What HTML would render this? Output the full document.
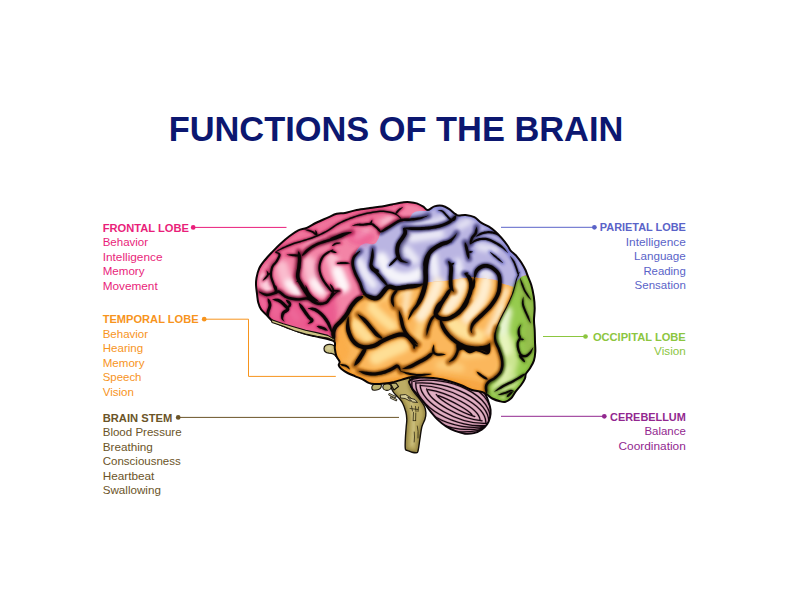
<!DOCTYPE html>
<html lang="en"><head><meta charset="utf-8"><title>Functions of the Brain</title>
<style>
html,body{margin:0;padding:0;background:#fff;}
body{width:792px;height:612px;overflow:hidden;}
svg{display:block;font-family:"Liberation Sans", sans-serif;}
</style></head><body>
<svg width="792" height="612" viewBox="0 0 792 612">
<rect width="792" height="612" fill="#ffffff"/>
<g id="labels">
<text x="168.7" y="140.9" fill="#0c1770" font-weight="700" font-size="34.4" textLength="454.6" lengthAdjust="spacingAndGlyphs">FUNCTIONS OF THE BRAIN</text>
<text x="102.7" y="231.6" fill="#e91e7a" font-weight="700" textLength="86.2" lengthAdjust="spacingAndGlyphs" font-size="11.0">FRONTAL LOBE</text>
<text x="102.7" y="246.15" fill="#e91e7a" textLength="45.4" lengthAdjust="spacingAndGlyphs" font-size="11.6">Behavior</text>
<text x="102.7" y="260.6" fill="#e91e7a" textLength="59.8" lengthAdjust="spacingAndGlyphs" font-size="11.6">Intelligence</text>
<text x="102.7" y="275.05" fill="#e91e7a" textLength="41.8" lengthAdjust="spacingAndGlyphs" font-size="11.6">Memory</text>
<text x="102.7" y="289.5" fill="#e91e7a" textLength="55.0" lengthAdjust="spacingAndGlyphs" font-size="11.6">Movement</text>
<text x="102.7" y="323.2" fill="#f7941d" font-weight="700" textLength="95.9" lengthAdjust="spacingAndGlyphs" font-size="11.0">TEMPORAL LOBE</text>
<text x="102.7" y="337.75" fill="#f7941d" textLength="45.4" lengthAdjust="spacingAndGlyphs" font-size="11.6">Behavior</text>
<text x="102.7" y="352.2" fill="#f7941d" textLength="40.5" lengthAdjust="spacingAndGlyphs" font-size="11.6">Hearing</text>
<text x="102.7" y="366.65" fill="#f7941d" textLength="41.8" lengthAdjust="spacingAndGlyphs" font-size="11.6">Memory</text>
<text x="102.7" y="381.1" fill="#f7941d" textLength="38.8" lengthAdjust="spacingAndGlyphs" font-size="11.6">Speech</text>
<text x="102.7" y="395.55" fill="#f7941d" textLength="31.2" lengthAdjust="spacingAndGlyphs" font-size="11.6">Vision</text>
<text x="102.7" y="421.6" fill="#6b5428" font-weight="700" textLength="69.6" lengthAdjust="spacingAndGlyphs" font-size="11.0">BRAIN STEM</text>
<text x="102.7" y="436.15" fill="#6b5428" textLength="78.9" lengthAdjust="spacingAndGlyphs" font-size="11.6">Blood Pressure</text>
<text x="102.7" y="450.6" fill="#6b5428" textLength="50.2" lengthAdjust="spacingAndGlyphs" font-size="11.6">Breathing</text>
<text x="102.7" y="465.05" fill="#6b5428" textLength="78.1" lengthAdjust="spacingAndGlyphs" font-size="11.6">Consciousness</text>
<text x="102.7" y="479.5" fill="#6b5428" textLength="51.7" lengthAdjust="spacingAndGlyphs" font-size="11.6">Heartbeat</text>
<text x="102.7" y="493.95" fill="#6b5428" textLength="58.2" lengthAdjust="spacingAndGlyphs" font-size="11.6">Swallowing</text>
<text x="685.8" y="231.4" fill="#5a63c8" font-weight="700" text-anchor="end" textLength="86.0" lengthAdjust="spacingAndGlyphs" font-size="11.0">PARIETAL LOBE</text>
<text x="685.8" y="245.95" fill="#5a63c8" text-anchor="end" textLength="60.0" lengthAdjust="spacingAndGlyphs" font-size="11.6">Intelligence</text>
<text x="685.8" y="260.4" fill="#5a63c8" text-anchor="end" textLength="51.8" lengthAdjust="spacingAndGlyphs" font-size="11.6">Language</text>
<text x="685.8" y="274.85" fill="#5a63c8" text-anchor="end" textLength="42.4" lengthAdjust="spacingAndGlyphs" font-size="11.6">Reading</text>
<text x="685.8" y="289.3" fill="#5a63c8" text-anchor="end" textLength="51.2" lengthAdjust="spacingAndGlyphs" font-size="11.6">Sensation</text>
<text x="685.8" y="340.9" fill="#8cc63f" font-weight="700" text-anchor="end" textLength="92.9" lengthAdjust="spacingAndGlyphs" font-size="11.0">OCCIPITAL LOBE</text>
<text x="685.8" y="355.45" fill="#8cc63f" text-anchor="end" textLength="31.7" lengthAdjust="spacingAndGlyphs" font-size="11.6">Vision</text>
<text x="685.8" y="420.5" fill="#92278f" font-weight="700" text-anchor="end" textLength="75.7" lengthAdjust="spacingAndGlyphs" font-size="11.0">CEREBELLUM</text>
<text x="685.8" y="435.05" fill="#92278f" text-anchor="end" textLength="41.4" lengthAdjust="spacingAndGlyphs" font-size="11.6">Balance</text>
<text x="685.8" y="449.5" fill="#92278f" text-anchor="end" textLength="67.3" lengthAdjust="spacingAndGlyphs" font-size="11.6">Coordination</text>
<path d="M193.2 227.4 L286.5 227.4" fill="none" stroke="#e91e7a" stroke-width="1"/><circle cx="193.2" cy="227.4" r="2.35" fill="#e91e7a"/>
<path d="M204.2 319.2 L248.5 319.2 L248.5 376.4 L335.8 376.4" fill="none" stroke="#f7941d" stroke-width="1"/><circle cx="204.2" cy="319.2" r="2.35" fill="#f7941d"/>
<path d="M178.2 417.4 L399 417.4" fill="none" stroke="#6b5428" stroke-width="1"/><circle cx="178.2" cy="417.4" r="2.35" fill="#6b5428"/>
<path d="M501 227.3 L594.4 227.3" fill="none" stroke="#5a63c8" stroke-width="1"/><circle cx="594.4" cy="227.3" r="2.35" fill="#5a63c8"/>
<path d="M543 336.5 L585.5 336.5" fill="none" stroke="#8cc63f" stroke-width="1"/><circle cx="585.5" cy="336.5" r="2.35" fill="#8cc63f"/>
<path d="M501 416.3 L604.3 416.3" fill="none" stroke="#92278f" stroke-width="1"/><circle cx="604.3" cy="416.3" r="2.35" fill="#92278f"/>
</g>
<g id="brain">
<defs>
<clipPath id="silc"><path d="M334.4 341.7C332.9 340.1 328.9 339.4 325.6 338.5C322.3 337.6 318.1 337 314.4 336.1C310.7 335.2 307 334.4 303.3 333.3C299.6 332.2 295.9 330.8 292.2 329.4C288.5 328 284.4 326.5 281.1 325C277.8 323.5 274.6 322.3 272.2 320.6C269.8 318.9 268.5 316.9 266.7 315C264.9 313.1 262.5 311.4 261.1 309.4C259.7 307.4 259 305.4 258.3 302.8C257.6 300.2 257.4 296.9 257 293.9C256.6 290.9 256.1 287.6 256 285C255.9 282.4 256 280.8 256.5 278C257 275.2 257.8 271.3 259.2 268.3C260.6 265.3 262.9 262.6 265 260C267.1 257.4 269.2 255.1 271.7 252.5C274.2 249.9 276.9 247 280 244.2C283.1 241.4 286.9 238.1 290 235.8C293.1 233.5 295.5 231.6 298.3 230.3C301.1 229 303.6 229.1 306.7 227.8C309.8 226.5 313.1 224.2 316.7 222.5C320.3 220.8 325 218.8 328.3 217.3C331.6 215.8 333.9 214.4 336.7 213.7C339.5 213 341.7 213.6 345 213C348.3 212.4 352.5 210.8 356.7 210C360.9 209.2 365.8 208.6 370 208C374.2 207.4 378.3 207.1 382 206.5C385.7 205.9 388.4 205.2 392 204.5C395.6 203.8 400.7 202.7 403.7 202.3C406.7 201.9 407.8 202 410 202.2C412.2 202.4 414.5 202.7 416.7 203.4C418.9 204.2 421.5 205.6 423.3 206.7C425.1 207.8 425.8 210.1 427.6 210.1C429.5 210.1 432 207.1 434.4 206.4C436.8 205.7 439.8 205.4 442.2 205.8C444.6 206.2 446.7 207.5 448.9 208.9C451.1 210.3 453.9 213.1 455.6 214.2C457.3 215.3 457.2 215.5 458.9 215.6C460.6 215.7 463 214.7 465.6 215C468.2 215.3 471.8 215.9 474.4 217.2C477 218.5 478.7 221 481.1 222.6C483.5 224.2 486.5 225.2 488.9 226.7C491.3 228.2 493.2 229.7 495.3 231.5C497.4 233.3 499.3 235.4 501.3 237.7C503.3 240 505.9 243.3 507.5 245.5C509.1 247.7 509.3 249.1 510.8 250.8C512.3 252.5 514.5 253.9 516.3 255.8C518 257.8 519.8 260.1 521.3 262.5C522.8 264.9 524.4 267.6 525.5 270C526.6 272.4 527 274.2 528 276.7C529 279.2 530.3 281.7 531.3 285C532.3 288.3 533.2 292.8 533.8 296.7C534.4 300.6 534.7 304.4 534.7 308.3C534.7 312.2 534 316.4 534 320C534 323.6 534.5 326.4 534.7 330C534.9 333.6 534.9 338.1 535 341.7C535.1 345.3 535.5 348.5 535.3 351.7C535.1 354.9 534.8 357.8 533.9 360.6C533 363.4 531.3 366.1 530 368.3C528.7 370.5 526.7 372.2 525.9 373.9C525.1 375.6 525.8 376.4 525 378.3C524.2 380.2 522.7 382.8 521.1 385C519.5 387.2 517.3 389.5 515.6 391.7C513.9 393.9 512.8 396.6 511.1 398.3C509.4 400 507.5 401.2 505.6 401.7C503.8 402.2 502.2 401.8 500 401.3C497.8 400.8 494.4 399.6 492.2 398.5C490 397.4 488.8 395.6 487 394.5C485.2 393.4 483.8 392.4 481.3 391.7C478.8 390.9 475.2 391 472 390C468.8 389 465.9 387 462 385.5C458.1 384 452.9 382.2 448.7 381C444.5 379.8 441.2 379.1 437 378.5C432.8 377.9 427.9 377.8 423.7 377.5C419.5 377.2 415.6 376.6 412 377C408.4 377.4 405 378.8 402 379.6C399 380.4 397.2 381.2 394.2 381.9C391.2 382.5 387.5 383.1 384.2 383.5C380.9 383.9 376.8 384.2 374.2 384.1C371.6 384 370.5 383.6 368.7 382.9C366.9 382.1 365.3 380.7 363.1 379.6C360.9 378.5 357.9 377.4 355.3 376.3C352.7 375.2 350 374.3 347.6 373C345.2 371.7 342.4 369.8 340.9 368.5C339.4 367.2 338.9 366.1 338.7 365C338.5 363.9 340 363.2 339.6 361.7C339.2 360.2 337.2 358.3 336.4 356.1C335.6 353.9 335.1 350.7 334.8 348.3C334.5 345.9 335.9 343.3 334.4 341.7Z"/></clipPath>
<clipPath id="pc"><path d="M430 195C424.9 196.4 429.1 207.9 428.5 209.5C427.9 211.1 424.9 210.9 424 211C423.1 211.1 420.4 210.8 419.5 210.9C418.6 211 416.2 211.4 415.5 211.7C414.8 212 412.7 213.2 412.2 213.8C411.7 214.4 411 216.6 410.4 217.3C409.8 218 407.4 220.4 406 221C404.6 221.6 398.3 222.1 396.5 222.8C394.7 223.5 389.6 227.2 388 228.2C386.4 229.2 381.7 231.8 380.8 232.8C379.9 233.8 379.3 237 378.8 238C378.3 239 376.5 242.3 375.8 243C375.1 243.7 373 244.5 372 244.5C371 244.5 367.1 243.2 366 243.3C364.9 243.4 361.9 244.6 361 245.3C360.1 246 358 248.8 357.3 250C356.6 251.2 354.3 255.7 353.9 257.2C353.4 258.7 352.6 263.3 352.8 265C353 266.7 354.9 272.1 355.6 273.9C356.3 275.7 359.2 281 360 282.8C360.8 284.6 362.4 290.3 363.3 291.7C364.2 293.1 367.6 296.5 368.9 297.2C370.2 297.9 374.8 299.3 376.7 298.3C378.6 297.3 385.8 288.5 387.8 287.5C389.8 286.5 394.7 288.4 396.7 288.3C398.7 288.2 405.7 287 407.8 286.7C409.9 286.4 416.1 286 418 285.6C419.9 285.2 423.6 283 426.7 282.5C429.8 282 444.5 280.9 448.9 280.4C453.3 279.9 466.3 277.4 471 277.4C475.7 277.4 492.6 279.4 495.6 280C498.6 280.6 499.3 282.6 501.1 283.3C502.9 284 511.1 287.9 513.3 287.2C515.5 286.5 520.6 277.8 523.3 276.1C526 274.4 538.3 272.6 540 270C541.7 267.4 542 255 540 250C538 245 526 225.5 520 220C514 214.5 489 197.5 480 195C471 192.5 435.1 193.6 430 195Z"/></clipPath>
<clipPath id="oc"><path d="M330 345C330.8 342.3 332.7 335.1 333.3 333.3C333.9 331.5 334.8 327.9 335.6 326.7C336.4 325.5 340 322.3 341.1 321.1C342.2 319.9 345.7 315.8 346.7 314.4C347.7 313 350.1 308.1 351.1 306.7C352.1 305.3 355.5 301.2 356.7 300C357.9 298.8 362.1 295.3 363.3 295C364.5 294.7 367.6 296.9 368.9 297.2C370.2 297.5 374.8 299.3 376.7 298.3C378.6 297.3 385.8 288.5 387.8 287.5C389.8 286.5 394.7 288.4 396.7 288.3C398.7 288.2 405.7 287 407.8 286.7C409.9 286.4 416.1 286 418 285.6C419.9 285.2 423.6 283 426.7 282.5C429.8 282 444.5 280.9 448.9 280.4C453.3 279.9 466.3 277.4 471 277.4C475.7 277.4 492.6 279.4 495.6 280C498.6 280.6 499.3 282.6 501.1 283.3C502.9 284 512.2 286 513.3 287.2C514.4 288.4 512.8 293.7 512.2 295.6C511.7 297.6 508.8 304.6 507.8 306.7C506.8 308.8 503.3 314.6 502.2 316.7C501.1 318.8 497.4 326 496.7 327.8C496 329.6 495.1 333.6 495 335C494.9 336.4 495.2 340.3 495.6 341.7C496 343.1 498.3 347.7 498.9 349.4C499.5 351.1 501.4 356.6 501.7 358.3C502 360 502.4 364.7 502.2 366.1C502 367.6 500.8 371.6 500 372.8C499.2 374 495.5 377.4 494.4 378.3C493.3 379.2 489.7 380.9 488.9 381.7C488.1 382.5 486.3 384.7 486.1 386.1C485.9 387.5 488.6 394.6 487 396C485.4 397.4 478.7 400.1 470 400C461.3 399.9 413 396.5 400 395C387 393.5 347.5 388.5 340 385C332.5 381.5 326 364 325 360C324 356 329.2 347.7 330 345Z"/></clipPath>
<clipPath id="gc"><path d="M523.3 276.1C520.1 276.8 514.4 285.2 513.3 287.2C512.2 289.1 512.8 293.7 512.2 295.6C511.7 297.6 508.8 304.6 507.8 306.7C506.8 308.8 503.3 314.6 502.2 316.7C501.1 318.8 497.4 326 496.7 327.8C496 329.6 495.1 333.6 495 335C494.9 336.4 495.2 340.3 495.6 341.7C496 343.1 498.3 347.7 498.9 349.4C499.5 351.1 501.4 356.6 501.7 358.3C502 360 502.4 364.7 502.2 366.1C502 367.6 500.8 371.6 500 372.8C499.2 374 495.5 377.4 494.4 378.3C493.3 379.2 489.7 380.9 488.9 381.7C488.1 382.5 486.3 384.7 486.1 386.1C485.9 387.5 485.6 393.6 487 396C488.4 398.4 495.7 409.6 500 410C504.3 410.4 525.5 407 530 400C534.5 393 543.5 352 545 340C546.5 328 547.2 286.4 545 280C542.8 273.6 526.5 275.4 523.3 276.1Z"/></clipPath>
<filter id="b3" x="-30%" y="-30%" width="160%" height="160%"><feGaussianBlur stdDeviation="2.4"/></filter>
<filter id="b2" x="-30%" y="-30%" width="160%" height="160%"><feGaussianBlur stdDeviation="1.5"/></filter>
<filter id="b05" x="-30%" y="-30%" width="160%" height="160%"><feGaussianBlur stdDeviation="0.45"/></filter>
<filter id="b1" x="-30%" y="-30%" width="160%" height="160%"><feGaussianBlur stdDeviation="0.8"/></filter>
<path id="sul" d="M274.8 251.9L275.7 251.4L276.8 250.7L278.2 249.8L279.7 248.9L281.4 248L283 247.1L284.7 246.4L286.5 245.6L288.4 244.8L290.3 244L292.2 243.3L294.1 242.6L296 242L297.9 241.4L299.8 240.9L301.7 240.4L303.5 239.8L305.4 239.3L307.2 238.7L309.1 238.1L310.9 237.5L312.7 236.8L314.6 236.1L316.4 235.4L318.3 234.6L320.2 233.7L322 232.8L323.9 231.8L325.7 230.9L327.4 229.9L329 229L330.4 228L331.9 226.9L333.3 225.9L334.8 224.9L336.3 223.9L337.9 223L339.6 222.2L341.2 221.4L342.9 220.6L344.7 219.8L346.4 219.1L348.2 218.4L350 217.6L351.9 217L353.8 216.3L355.7 215.7L357.6 215.1L359.4 214.5L361.3 214L363.2 213.5L365 213.1L366.9 212.6L368.7 212.2L370.6 211.9L372.5 211.5L374.4 211.2L376.3 210.9L378.1 210.7L380 210.5L381.8 210.5L383.6 210.6L385.4 210.7L387.1 210.9L388.7 211.2L390.2 211.4L391.5 211.8L392.8 212.1L394 212.6L395 213.1L396.1 213.6L397 214.2L398 214.9L398.9 215.7L399.7 216.5L400.4 217.3L401 218L401.4 218.4L400.8 219L400.3 218.5L399.7 217.9L399 217.2L398.1 216.5L397.3 215.8L396.4 215.2L395.4 214.8L394.5 214.3L393.4 213.9L392.3 213.6L391.1 213.2L389.8 213L388.4 212.7L386.8 212.4L385.2 212.3L383.5 212.1L381.8 212.1L380 212.1L378.3 212.2L376.5 212.4L374.6 212.7L372.8 213L370.9 213.4L369.1 213.8L367.2 214.1L365.4 214.6L363.5 215L361.7 215.5L359.9 216L358 216.5L356.2 217.1L354.3 217.7L352.4 218.4L350.6 219.1L348.8 219.8L347 220.5L345.3 221.2L343.6 222L341.9 222.8L340.3 223.6L338.7 224.4L337.1 225.3L335.6 226.2L334.2 227.2L332.8 228.2L331.3 229.2L329.8 230.3L328.2 231.3L326.4 232.2L324.6 233.2L322.7 234.2L320.8 235.1L318.9 236L317 236.8L315.1 237.6L313.3 238.3L311.4 238.9L309.5 239.5L307.7 240.1L305.8 240.7L304 241.3L302.1 241.8L300.2 242.4L298.3 242.9L296.5 243.4L294.7 244L292.8 244.7L290.9 245.4L289 246.2L287.1 247L285.3 247.7L283.6 248.5L282 249.2L280.3 250L278.7 250.7L277.3 251.5L276.1 252.1L275.2 252.5Z M315.7 230L316.3 230.9L316.8 231.8L317.1 232.7L317.4 233.7L317.5 234.6L317 235.8L316.8 235.8L315.8 235L315.6 234.1L315.4 233.1L315.3 232.1L315.3 231.1L315.5 230Z M304.4 229.3L305.4 229.4L306.7 229.4L308.2 229.6L309.8 229.9L311.3 230.4L312.6 230.9L313.7 231.6L314.7 232.4L315.5 233.2L316.1 234.1L316.5 234.9L316.8 235.5L316.6 235.7L316 235.4L315.2 235L314.4 234.4L313.6 233.7L312.7 233L311.8 232.5L310.7 232L309.3 231.5L307.8 231L306.4 230.4L305.2 229.9L304.4 229.5Z M286.7 254.6L287.4 254.5L288.4 254.4L289.5 254.3L290.7 254.2L291.9 254.2L293.1 254.2L294.2 254.2L295.4 254.3L296.7 254.4L297.8 254.5L298.8 254.6L299.4 255L299.4 256.2L298.6 256.5L297.7 256.5L296.5 256.5L295.3 256.4L294.1 256.3L292.9 256.2L291.8 256L290.6 255.8L289.4 255.5L288.3 255.2L287.4 255L286.7 254.8Z M298.9 251.4L299.1 251.9L299.5 252.5L299.9 253.2L300.3 254.1L300.7 254.9L301 255.8L301.1 256.7L301.2 257.5L301.2 258.4L301.2 259.2L301.2 260.1L301.2 261.1L301.1 262L301 263L300.9 264L300.8 265L300.7 266.1L300.6 267.4L300.3 268.9L300 270.6L299.7 272.3L299.4 274L299.4 275.5L299.5 276.9L299.8 278.2L300.3 279.5L301 280.9L301.9 282.3L302.8 283.8L303.7 285.3L304.5 286.8L305.5 288.3L306.4 289.9L307.4 291.4L308.3 292.8L309.2 294.1L310 295.2L310.6 296.3L311.2 297.1L311.7 297.9L312.4 298.6L313.2 299.2L314.4 300L315.8 301L317.4 302L319 303.1L320.3 304.1L321.2 304.8L321 305.2L319.9 305L318.3 304.7L316.4 304.3L314.5 303.7L312.7 302.9L311.2 302L310.1 301L309.2 300L308.4 299L307.8 298.1L307.1 297L306.4 295.9L305.5 294.6L304.6 293.2L303.6 291.7L302.6 290.1L301.6 288.5L300.7 286.9L299.9 285.5L299 284L298.1 282.5L297.3 281L296.6 279.3L296.1 277.5L296 275.6L296.1 273.6L296.4 271.8L296.7 270L297 268.4L297.2 267L297.4 265.7L297.5 264.6L297.6 263.6L297.7 262.7L297.8 261.8L297.8 260.9L297.9 260L297.9 259.2L297.9 258.4L297.8 257.7L297.8 256.9L297.8 256.2L297.9 255.4L297.9 254.5L298 253.7L298 252.8L298.1 252.1L298.1 251.6Z M275.1 251.9L275.7 252L276.6 252.1L277.7 252.3L278.8 252.6L279.8 253.2L280.5 254.3L280.5 255.5L280.2 256.8L279.6 258L279 259.3L278.3 260.5L277.6 261.7L276.8 262.7L276 263.8L275.1 264.7L274.3 265.6L273.7 266.6L273.2 267.6L272.8 268.8L272.5 270.2L272.2 271.6L272.1 273.1L272.1 274.6L272.1 276L272.4 277.4L272.8 278.8L273.3 280.3L273.9 281.8L274.4 283.3L274.9 284.7L275.2 286.1L275.5 287.4L275.7 288.7L275.8 289.9L275.8 290.9L275.9 291.6L275.3 291.8L275 291.1L274.6 290.2L274.2 289.1L273.7 287.9L273.3 286.6L272.9 285.3L272.5 284L271.9 282.6L271.3 281L270.8 279.5L270.3 277.8L270.1 276.2L270 274.6L270 273L270.2 271.3L270.4 269.8L270.8 268.2L271.2 266.8L271.9 265.5L272.7 264.3L273.6 263.3L274.4 262.4L275.2 261.5L275.8 260.5L276.4 259.5L277.1 258.3L277.7 257.1L278.2 256L278.5 255.2L278.5 254.7L278.4 254.5L278 254.1L277.2 253.6L276.3 253.2L275.5 252.8L274.9 252.5Z M301.9 255.3L302.3 254.6L302.9 253.6L303.7 252.4L304.7 251.2L305.8 250.1L307.1 249.1L308.4 248.1L309.8 247.1L311.3 246.1L312.8 245.1L314.5 244.2L316.2 243.3L318 242.5L319.9 241.9L321.8 241.2L323.7 240.6L325.6 240L327.4 239.5L329.2 238.9L331 238.4L332.8 237.9L334.5 237.4L336.1 236.9L337.6 236.4L339 235.8L340.4 235.2L341.8 234.6L343.1 234L344.4 233.5L345.7 233.1L346.9 232.9L348.1 232.7L349.2 232.5L350.2 232.5L351.1 232.4L351.7 232.4L351.7 232.6L351.2 232.9L350.4 233.2L349.5 233.5L348.4 233.9L347.4 234.4L346.3 234.9L345.2 235.4L344.1 236.1L342.8 236.7L341.4 237.4L339.9 238L338.4 238.6L336.8 239.2L335.1 239.7L333.4 240.2L331.7 240.7L329.9 241.2L328.2 241.7L326.3 242.3L324.4 242.9L322.5 243.5L320.7 244.1L318.9 244.8L317.2 245.5L315.6 246.3L314.1 247.2L312.5 248.1L311.1 249L309.8 250L308.5 250.9L307.4 251.9L306.3 252.9L305.2 253.9L304.1 254.7L303.2 255.4L302.5 255.9Z M333.4 249.6L332.4 250.5L330.8 251.6L329 252.9L327.1 254.2L325.4 255.4L324.1 256.8L323.1 258.2L322.3 259.9L321.5 261.7L321 263.6L320.6 265.5L320.4 267.2L320.5 269L320.7 270.7L321.1 272.5L321.6 274.3L322.3 276L323.1 277.8L324.2 279.7L325.4 281.7L326.8 283.6L328.3 285.5L329.7 287.3L330.8 288.8L331.6 290L332.4 291L333.1 291.9L333.7 292.6L334.2 293.2L334.6 293.7L334.2 294.1L333.7 293.7L333.1 293.3L332.3 292.8L331.4 292.1L330.3 291.2L329.2 290L328 288.6L326.6 286.8L325.2 284.9L323.7 282.8L322.3 280.8L321.3 278.8L320.4 276.9L319.7 274.9L319.1 273L318.6 271.1L318.4 269.1L318.4 267.2L318.6 265.1L319 263.1L319.6 261L320.3 259L321.3 257.2L322.5 255.4L324 253.9L326 252.4L328.1 251.3L330.1 250.4L331.9 249.7L333.2 249.2Z M262.7 280.5L263.2 279.7L263.9 278.7L264.8 277.5L265.7 276.4L266.5 275.4L267 274.7L267.1 274.1L267.1 273.5L267 272.7L266.8 271.9L266.7 271.2L266.6 270.6L266.8 270.6L267.1 271L267.6 271.5L268.1 272.2L268.6 273.1L268.8 274.2L268.6 275.3L268 276.5L267.1 277.6L266 278.7L264.8 279.5L263.6 280.2L262.9 280.7Z M267.7 274.9L267.8 274L268.3 273.6L268.8 273.2L269.4 273L270.1 272.8L270.7 272.7L270.9 272.9L270.5 273.5L270.2 274.1L269.8 274.6L269.3 274.9L268.8 275.3L267.9 275.1Z M259 291.4L259.9 291.7L261.2 292.2L262.6 292.7L264.1 293.2L265.5 293.6L266.8 293.8L268 293.8L269.5 293.5L271.1 293L272.6 292.5L274.1 292L275.2 291.7L275.9 291.4L276.2 291.2L276.6 290.8L277.3 290.4L278.3 290.3L279.4 290.6L280.6 291.3L281.8 292.2L283.1 293.3L284.4 294.4L285.8 295.4L287.2 296.1L288.7 296.7L290.5 297.1L292.3 297.5L294.2 297.8L296.1 298.1L297.8 298.2L299.5 298.2L301.1 298L302.7 297.7L304.4 297.4L306.2 297.2L308.1 297.4L309.8 298.1L311.5 299L313 300.1L314.4 301.1L315.8 301.9L317 302.4L318.4 302.6L319.8 302.6L321.3 302.6L322.8 302.4L324.1 302.1L325.1 301.7L325.9 301.3L326.6 300.7L327.1 300L327.7 299.2L328.4 298.4L329.2 297.5L330 296.8L330.8 296L331.6 295.3L332.4 294.6L333.2 293.9L334 293.4L334.8 292.9L335.5 292.5L336.3 292.2L336.9 291.9L337.5 291.7L337.9 291.5L338.1 291.9L337.7 292.1L337.2 292.5L336.7 292.9L336.1 293.3L335.4 293.9L334.8 294.4L334.2 295.1L333.6 295.8L332.9 296.6L332.2 297.5L331.5 298.3L330.8 299.1L330.2 299.8L329.7 300.6L329 301.5L328.2 302.4L327.3 303.3L326.1 303.9L324.7 304.3L323.2 304.7L321.5 304.9L319.8 305L318.1 304.9L316.4 304.6L314.7 304L313.1 303.1L311.6 302L310.2 301L308.8 300.2L307.5 299.8L306.2 299.6L304.7 299.7L303.1 300L301.4 300.3L299.6 300.6L297.8 300.6L295.9 300.4L293.9 300.2L291.9 299.9L289.9 299.4L288 298.9L286.2 298.3L284.5 297.4L283 296.3L281.6 295.2L280.3 294.1L279.2 293.3L278.4 292.8L278 292.7L278.1 292.7L278.1 292.7L277.7 293L277 293.5L276 293.9L274.8 294.3L273.4 294.8L271.8 295.3L270.1 295.8L268.3 296.1L266.6 296.2L264.9 295.8L263.3 295.1L261.9 294.3L260.6 293.3L259.5 292.5L258.8 292Z M296.1 275.9L296.6 276.2L297.4 276.7L298.1 277.4L298.6 278.2L299.1 279.1L299.3 279.9L299.2 280.8L298.7 281.5L298.1 281.8L297.4 282L296.9 282L296.6 282.1L296.4 281.9L296.6 281.6L296.9 281.1L297.2 280.7L297.5 280.3L297.6 280.1L297.7 280.1L297.5 279.7L297.2 279.1L296.7 278.4L296.3 277.5L296 276.7L295.9 276.1Z M351.7 226L352.2 225.8L352.8 225.4L353.7 225L354.6 224.6L355.6 224.2L356.6 223.9L357.7 223.7L358.8 223.7L359.9 223.6L361 223.7L362.1 223.7L363.2 223.7L364.4 223.5L365.8 223.3L367.2 223.1L368.6 222.9L370 222.8L371.3 222.9L372.4 223.2L373.4 223.6L374.3 224.2L375 224.8L375.6 225.4L376.3 225.9L376.9 226.4L377.6 227.1L378.2 227.7L378.7 228.3L379.2 228.8L379.7 229.3L380 229.8L380.3 230.4L380.6 230.9L380.7 231.3L380.9 231.7L381 231.9L380.2 232.5L380 232.3L379.7 232L379.3 231.8L379 231.4L378.5 231.1L378.1 230.7L377.7 230.2L377.2 229.7L376.7 229.1L376.1 228.6L375.5 228L374.9 227.5L374.3 227L373.6 226.4L373 225.9L372.4 225.5L371.7 225.1L370.9 224.9L370 224.9L368.8 225L367.5 225.2L366.1 225.4L364.7 225.6L363.4 225.7L362.1 225.8L360.9 225.8L359.8 225.7L358.7 225.6L357.7 225.5L356.8 225.5L355.9 225.5L354.9 225.7L353.9 225.8L353 226L352.3 226.1L351.7 226.2Z M370.5 223.9L370.1 222.9L370.4 222.2L370.7 221.6L371.1 220.9L371.6 220.3L372.1 219.8L372.3 219.8L372.3 220.6L372.2 221.4L372.1 222.1L371.9 222.8L371.6 223.5L370.7 223.9Z M395.5 213.8L395.6 213.2L395.8 212.3L396.3 211.6L396.9 210.8L397.6 210L398.3 209.4L399.1 208.8L399.9 208.3L400.8 207.9L401.6 207.6L402.3 207.3L402.7 207.1L402.9 207.3L402.5 207.7L402 208.2L401.4 208.8L400.7 209.4L400.1 210.1L399.5 210.6L398.9 211.2L398.3 212L397.7 212.7L397.1 213.3L396.3 213.7L395.7 214Z M330 238.2L330.7 237.9L331.6 237.5L332.7 237L333.9 236.5L335.2 236L336.4 235.6L337.5 235.1L338.8 234.6L340.1 234.1L341.4 233.6L342.7 233.1L344 232.7L345.4 232.4L346.9 232.2L348.4 232.1L349.7 232L350.8 231.9L351.7 231.9L351.7 232.1L351 232.5L349.9 232.9L348.7 233.5L347.4 234L346 234.6L344.8 235.1L343.5 235.5L342.3 236L341 236.5L339.7 237L338.3 237.5L337 237.8L335.7 238.1L334.4 238.2L333 238.3L331.8 238.4L330.8 238.4L330 238.4Z M380.3 231.8L381 231.1L381.9 230.3L383.1 229.4L384.4 228.5L385.8 227.6L387.2 226.8L388.6 225.9L390.1 224.9L391.7 223.9L393.3 222.9L394.8 221.9L396.1 221.2L397.2 220.6L398.2 220.1L399.1 219.7L399.9 219.3L400.9 219.1L402 218.8L403.2 218.7L404.5 218.6L405.8 218.6L407.1 218.5L408.5 218.5L409.9 218.4L411.4 218.3L413.1 218.1L414.8 217.9L416.6 217.8L418.2 217.6L419.8 217.4L421.4 217.1L423 216.8L424.6 216.4L426.1 216L427.3 215.7L428.3 215.5L428.3 215.7L427.5 216.1L426.3 216.7L424.9 217.3L423.4 218L421.8 218.7L420.2 219.2L418.6 219.6L416.9 220L415.1 220.3L413.4 220.5L411.7 220.6L410.1 220.8L408.6 220.9L407.2 220.9L405.8 220.9L404.6 221L403.5 221L402.4 221.2L401.5 221.4L400.7 221.6L400 221.9L399.2 222.2L398.3 222.7L397.3 223.2L396 224L394.6 224.9L393 225.9L391.4 226.9L389.9 227.9L388.4 228.8L387 229.7L385.6 230.5L384.2 231.3L382.9 231.9L381.7 232.3L380.9 232.6Z M330 250.5L331.4 250.2L332.5 250.4L333.7 250.8L334.7 251.2L335.8 251.9L336.7 252.7L336.7 252.9L335.4 252.9L334.2 252.9L333 252.6L331.9 252.3L330.9 251.7L330 250.7Z M336.7 263.2L337.4 263L338.3 262.7L339.4 262.4L340.6 262.1L341.8 262L343 261.9L344.2 262L345.6 262L346.9 262.3L348.2 262.6L349.2 262.9L350 263.2L350 263.4L349.2 263.6L348.1 263.8L346.9 264L345.5 264.1L344.2 264.1L343 264.1L341.9 264.1L340.7 264L339.5 263.9L338.3 263.7L337.4 263.5L336.7 263.4Z M330.1 283.8L330.7 284.4L331.7 285.3L332.7 286.4L333.4 287.7L334 289.1L334.3 290.6L334 292.1L333.4 293.5L332.6 294.8L331.7 295.9L330.7 296.7L330.1 297.3L329.9 297.1L330.1 296.3L330.5 295.1L331.1 293.8L331.7 292.6L332.2 291.5L332.3 290.6L332.2 289.7L331.7 288.6L331.1 287.3L330.5 286L330.1 284.8L329.9 284Z M333.3 290.5L334.6 289.8L335.8 289.9L337 290L338.2 290.2L339.4 290.6L340.6 291L340.6 291.2L339.4 291.5L338.1 291.7L336.9 291.7L335.7 291.7L334.5 291.6L333.3 290.7Z M331.9 245.9L332.2 245.5L332.7 244.8L333.3 244.2L334 243.6L334.9 243.1L335.7 242.7L336.7 242.5L337.7 242.4L338.7 242.5L339.7 242.6L340.4 242.8L341 242.9L341 243.1L340.5 243.3L339.7 243.5L338.8 243.7L337.9 243.9L337 244.1L336.3 244.3L335.6 244.6L334.9 245L334.1 245.4L333.3 245.7L332.6 245.9L332.1 246.1Z M336.7 263.2L337.8 262.6L338.9 262.4L340 262.4L341.1 262.4L342.2 262.5L343.3 263.1L343.3 263.3L342.2 263.9L341.1 264.1L340 264.1L338.9 264.1L337.8 264L336.7 263.4Z M275.7 285L276 285.6L276.5 286.4L276.9 287.4L277.1 288.5L277.2 289.7L277 290.9L276.4 292L275.7 292.9L274.8 293.8L273.8 294.4L272.9 294.8L272.3 295.1L272.1 294.9L272.4 294.3L272.9 293.4L273.6 292.5L274.3 291.7L274.9 291L275.2 290.3L275.4 289.6L275.3 288.7L275.3 287.7L275.3 286.6L275.4 285.7L275.5 285Z M305.7 285L306.1 285.7L306.5 286.7L307.1 287.8L307.6 289L308.2 290.2L308.7 291.2L309.2 292.2L309.8 293.1L310.5 294L311.2 294.8L312 295.7L312.8 296.5L313.9 297.3L315 298.2L316.2 299.1L317.4 300.1L318.3 301L319 301.6L318.8 301.8L318 301.5L316.8 301L315.4 300.4L314 299.7L312.7 298.8L311.6 297.9L310.6 297L309.8 296.1L309 295.2L308.2 294.2L307.5 293.2L306.9 292.2L306.4 290.9L306 289.6L305.8 288.2L305.6 286.9L305.6 285.8L305.5 285Z M267.9 298.3L268.5 298.8L269.4 299.6L270.2 300.7L270.8 302L271.2 303.5L271.4 305L271.2 306.5L270.8 308L270.3 309.5L269.8 310.8L269.4 312L269.2 312.9L269.1 313.8L269 314.8L269 315.8L269 316.8L269 317.6L269 318.3L268.8 318.3L268.5 317.8L268 317.1L267.4 316.3L266.9 315.2L266.5 314L266.4 312.7L266.7 311.3L267.1 309.9L267.7 308.5L268.1 307.2L268.5 306L268.6 305L268.5 304L268.2 302.9L267.8 301.6L267.7 300.4L267.7 299.2L267.7 298.3Z M272.2 299.3L273 299.2L274 298.9L275.3 298.7L276.7 298.7L278.2 298.8L279.5 299.2L280.7 299.8L281.8 300.6L282.9 301.4L283.8 302.3L284.7 303.1L285.5 303.9L286.2 304.6L287.1 305.4L287.9 306.2L288.6 307.1L289.2 308.2L289.3 309.7L288.6 311L287.6 311.8L286.6 312.4L285.6 312.9L284.9 313.3L284.5 313.7L284.3 314.2L283.9 314.9L283.6 315.8L283.4 316.7L283.2 317.5L283.1 318.2L283.1 318.7L283.3 319.4L283.6 320L284 320.7L284.3 321.2L284.5 321.6L284.3 321.8L284 321.5L283.5 321.1L282.9 320.6L282.2 320.1L281.7 319.3L281.3 318.4L281.1 317.5L281 316.4L281 315.3L281.2 314.2L281.5 313L282.1 311.9L283 310.9L284.1 310.2L285.1 309.7L285.9 309.2L286.3 309L286.3 309.1L286.3 309.2L286.1 308.9L285.6 308.3L284.9 307.6L284.1 306.9L283.3 306.1L282.5 305.3L281.7 304.5L280.9 303.8L280 303.1L279.1 302.5L278.3 302L277.4 301.6L276.3 301.2L275.1 300.7L273.9 300.3L272.9 299.8L272.2 299.5Z M299 302.7L299.7 303.3L300.7 304L301.8 304.9L302.8 306L303.7 307.3L304.6 308.5L305.5 309.8L306.4 311.2L307.4 312.6L308.4 314L309.3 315.2L310.1 316.2L310.7 316.9L311.4 317.4L312.1 318L312.8 318.6L313.4 319.5L313.5 320.9L312.8 322L311.8 322.7L310.6 323.2L309.5 323.5L308.5 323.8L307.9 324L307.7 323.8L308.2 323.3L309 322.6L309.8 321.8L310.5 321L310.9 320.4L310.9 320.3L310.8 320.7L310.7 320.7L310.3 320.4L309.5 319.9L308.6 319.1L307.7 318.2L306.9 317.1L305.9 315.8L304.9 314.4L303.9 313L302.9 311.6L302 310.3L301.2 309L300.3 307.7L299.7 306.3L299.3 304.9L299 303.7L298.8 302.9Z M307.8 308.2L308.5 308.1L309.6 307.9L310.8 307.7L312.2 307.6L313.6 307.7L315 308L316.2 308.6L317.5 309.2L318.7 310L319.9 310.9L321 311.8L322.1 312.8L323.2 313.8L324.3 314.9L325.3 316.1L326.3 317.4L327.2 318.6L328 319.7L328.7 320.9L329.4 322.1L329.9 323.2L330.4 324.4L330.8 325.5L331.2 326.7L331.5 328L331.8 329.4L332 330.8L332.1 332L332.2 333.1L332.3 333.9L332.1 333.9L331.7 333.2L331.2 332.3L330.6 331.2L330 330L329.4 328.8L328.8 327.7L328.2 326.6L327.7 325.6L327.2 324.6L326.7 323.5L326.1 322.5L325.4 321.5L324.7 320.4L323.8 319.2L322.9 318.1L322 317L321 316L320.1 315L319.1 314.2L318 313.3L316.9 312.6L315.9 311.9L314.8 311.3L313.8 310.8L312.9 310.4L311.7 309.9L310.6 309.5L309.5 309.1L308.5 308.7L307.8 308.4Z M316.7 326L317.6 325.9L318.8 325.8L320.1 325.9L321.4 326.3L322.7 326.7L323.8 327.1L324.8 327.6L325.7 328.1L326.4 328.7L327 329.4L327.5 330L327.8 330.5L327.8 330.7L327.2 330.7L326.4 330.6L325.5 330.5L324.6 330.2L323.7 329.8L322.8 329.5L321.8 329.1L320.6 328.7L319.3 328.2L318.2 327.6L317.3 326.8L316.7 326.2Z M286.1 299.9L286.8 300.1L287.9 300.3L288.9 300.8L289.9 301.6L290.7 302.6L291.2 303.7L291.2 305L290.8 306L290.2 306.9L289.4 307.4L288.6 307.8L288.1 308.1L287.9 307.9L288 307.3L288.1 306.5L288.3 305.6L288.6 304.9L288.8 304.5L288.8 304.3L288.6 304L288.1 303.4L287.3 302.7L286.7 301.8L286.2 300.8L285.9 300.1Z M360.3 251.4L359.6 252.1L358.7 253.1L357.6 254.3L356.5 255.5L355.6 256.7L354.9 257.8L354.5 258.8L354.2 259.9L354 261.1L354 262.3L354 263.6L354.1 264.9L354.3 266.2L354.6 267.5L355 269L355.6 270.4L356.2 271.9L356.8 273.4L357.4 274.8L358.1 276.3L358.9 277.8L359.7 279.3L360.4 280.8L361.2 282.3L361.8 283.9L362.3 285.5L362.8 287.1L363.3 288.6L363.8 289.9L364.4 291.1L365.1 292.1L365.9 293.1L366.7 294L367.6 294.9L368.5 295.6L369.4 296.1L370.5 296.6L371.8 296.9L373.2 297.1L374.6 297.3L375.9 297.4L376.8 297.6L376.6 299L375.8 299L374.6 299.1L373.1 299.1L371.5 299L369.9 298.7L368.4 298.3L367.1 297.6L366 296.8L364.9 295.8L364 294.8L363.1 293.6L362.2 292.3L361.5 290.9L360.9 289.4L360.4 287.8L359.9 286.3L359.4 284.7L358.8 283.3L358.2 281.9L357.4 280.4L356.7 278.9L355.9 277.4L355.1 275.9L354.4 274.4L353.8 272.9L353.2 271.3L352.7 269.8L352.2 268.2L351.8 266.7L351.5 265.1L351.4 263.7L351.4 262.2L351.5 260.8L351.8 259.4L352.2 258L352.9 256.6L353.8 255.3L355.1 254.1L356.5 253.1L357.8 252.1L358.9 251.4L359.7 250.8Z M373 248.3L373.1 249.3L373.3 250.6L373.5 252.2L373.7 253.9L373.7 255.7L373.6 257.4L373.3 259.1L373 260.9L372.6 262.7L372.4 264.3L372.3 265.7L372.4 266.8L372.8 267.6L373.4 268.3L374.3 269L375.3 269.8L376.5 270.7L377.7 271.8L378.8 273.1L380 274.4L381.1 275.8L382.3 277.2L383.4 278.5L384.3 279.7L385.2 280.9L386 282.1L386.7 283.2L387.3 284.3L387.8 285.1L388.2 285.8L387.4 286.4L386.9 285.9L386.1 285.2L385.2 284.4L384.3 283.5L383.3 282.5L382.3 281.5L381.2 280.3L380.1 279L379 277.6L377.8 276.2L376.7 274.9L375.7 273.8L374.7 272.9L373.7 272.1L372.6 271.2L371.4 270.3L370.5 269.1L369.8 267.6L369.5 265.8L369.6 264L369.9 262.2L370.2 260.3L370.6 258.6L370.8 257L371 255.4L371.3 253.7L371.6 252.1L372 250.5L372.3 249.2L372.6 248.3Z M370.6 262L371 262.6L371.6 263.5L372.2 264.5L372.9 265.6L373.4 266.6L373.8 267.3L374.5 267.8L375.4 268.4L376.5 268.9L377.5 269.4L378.4 269.8L378.9 271.7L377.5 272.2L376.4 272L375.1 271.6L373.8 271L372.7 270.5L372 270.1L372 269.9L372.8 269.8L374.1 269.8L375.5 269.8L376.8 269.9L377.6 269.9L377.1 270.3L377.2 271.7L376.6 271.4L375.5 270.9L374.3 270.4L373.2 269.6L372.2 268.7L371.4 267.6L370.9 266.4L370.6 265.1L370.5 263.8L370.4 262.8L370.4 262Z M363.5 293.4L365.2 293.7L367.5 294.3L370.1 295.1L372.5 295.8L374.7 296.3L376.1 296.3L377.4 295.5L379.1 293.9L380.9 291.7L382.7 289.3L384.6 287L386.8 285.4L389.1 284.6L391.2 284.7L392.9 285.2L394.3 285.7L395.5 286.1L396.7 286.2L398.2 286.1L400 285.9L401.8 285.6L403.7 285.2L405.6 284.9L407.5 284.6L409.4 284.4L411.2 284.2L413 284.2L414.7 284.1L416.3 284.1L417.7 284.1L419 284L420.2 283.9L421.3 283.7L422.4 283.5L423.2 283.3L423.9 283.2L424.1 283.8L423.6 284.1L422.8 284.7L421.9 285.3L420.9 285.9L419.7 286.5L418.3 287.1L416.8 287.5L415.1 287.9L413.4 288.2L411.6 288.4L409.8 288.6L408.1 288.8L406.3 289L404.4 289.4L402.5 289.7L400.6 290L398.6 290.3L396.7 290.4L394.7 290.2L393 289.7L391.6 289.2L390.5 288.8L389.7 288.8L388.8 289L387.6 290L386 291.9L384.2 294.3L382.2 296.7L380 298.9L377.3 300.3L374.2 300.5L371.3 299.8L368.6 298.5L366.2 296.9L364.4 295.4L363.1 294.4Z M388.8 266L389.1 265.4L389.5 264.6L390.1 263.7L390.7 262.8L391.5 262L392.2 261.2L393 260.4L393.8 259.6L394.7 258.7L395.5 257.9L396.3 257.3L397.1 257.1L397.9 257.9L397.7 258.7L397.1 259.5L396.3 260.3L395.4 261.2L394.6 262L393.8 262.8L393 263.5L392.2 264.3L391.3 264.9L390.4 265.5L389.6 265.9L389 266.2Z M404 228L405.1 227.8L406.5 227.6L408.2 227.4L410 227.3L411.7 227.3L413.3 227.3L414.8 227.3L416.2 227.3L417.5 227.3L418.9 227.2L420.3 227.2L421.6 227.1L423 227L424.4 226.9L425.7 226.8L427.1 226.7L428.5 226.6L429.8 226.4L431.2 226.2L432.6 226L434 225.8L435.3 225.6L436.7 225.3L438 225L439.3 224.7L440.6 224.3L441.9 223.9L443.1 223.4L444.3 223L445.4 222.5L446.4 222.1L447.4 221.6L448.2 221.1L449 220.6L449.8 220L450.6 219.4L451.4 218.7L452.3 217.9L453.3 217.1L454.2 216.3L455.1 215.7L455.7 215.3L456.5 215.9L456.1 216.6L455.6 217.5L455 218.6L454.2 219.7L453.3 220.7L452.4 221.6L451.5 222.3L450.6 222.9L449.7 223.5L448.7 224L447.7 224.6L446.6 225.1L445.4 225.6L444.1 226.1L442.8 226.5L441.4 227L440 227.4L438.6 227.8L437.2 228.1L435.8 228.4L434.4 228.6L433 228.8L431.6 229L430.2 229.2L428.8 229.4L427.4 229.5L426 229.6L424.6 229.7L423.2 229.8L421.8 229.9L420.4 230L419 230L417.6 230.1L416.2 230.1L414.8 230.1L413.3 230.1L411.6 230L409.9 229.8L408.1 229.5L406.4 229.1L405 228.7L404 228.4Z M405 227.4L405.3 227.9L405.8 228.5L406.4 229.4L406.8 230.5L407.1 231.8L407 233.1L406.6 234.4L406 235.6L405.4 236.7L404.7 237.8L404 238.8L403.4 239.7L402.8 240.6L402.1 241.5L401.5 242.3L401 243L400.5 243.7L400.2 244.4L399.9 245.2L399.6 246.1L399.4 246.9L399.2 247.8L399.1 248.7L399 249.6L399 250.5L399 251.4L399.1 252.2L399.2 253.1L399.4 253.9L399.6 254.8L399.9 255.6L400.1 256.5L400.4 257.3L400.7 258L401.1 258.6L401.6 259.2L402.3 259.9L403.4 260.5L404.7 261.2L406 261.8L407.1 262.3L407.8 262.7L407.8 262.9L406.9 262.8L405.7 262.7L404.3 262.5L402.8 262.3L401.3 261.9L400 261.4L399 260.6L398.2 259.7L397.5 258.8L397 257.8L396.6 256.8L396.2 255.8L395.9 254.8L395.6 253.7L395.5 252.7L395.4 251.6L395.4 250.5L395.4 249.4L395.5 248.3L395.6 247.2L395.8 246.2L396.1 245.1L396.4 244L396.8 243L397.4 241.9L398 241L398.6 240.1L399.2 239.3L399.8 238.5L400.4 237.7L401 236.8L401.7 235.8L402.3 234.8L402.8 233.9L403.2 233.1L403.4 232.5L403.4 232L403.4 231.3L403.3 230.5L403.1 229.6L403 228.8L403 228.2Z M423.7 267.9L423.5 266.7L423.2 265L423.3 263L423.7 261L424.2 258.9L424.9 257.1L425.6 255.4L426.5 253.9L427.4 252.5L428.5 251.1L429.6 249.8L430.9 248.6L432.3 247.4L433.9 246.2L435.5 245.2L437.1 244.3L438.7 243.4L440.3 242.6L441.8 242L443.3 241.5L444.7 241.2L446 241L447.1 240.7L448.1 240.3L449.1 239.8L450.2 239.2L451.2 238.4L452.2 237.7L453.1 236.9L453.9 236.2L454.5 235.6L455.1 235L455.6 234.4L456 233.9L456.3 233.4L456.6 233.1L456.8 233.1L456.6 233.6L456.4 234.1L456.2 234.8L455.9 235.5L455.5 236.3L454.9 237.2L454.3 238.1L453.6 239L452.8 240.1L451.9 241.1L450.8 242.2L449.7 243.1L448.4 243.8L447 244.4L445.7 244.8L444.4 245.2L443.2 245.6L441.9 246.2L440.5 246.9L439 247.7L437.5 248.6L436.1 249.5L434.7 250.5L433.5 251.4L432.5 252.5L431.5 253.6L430.6 254.7L429.8 256L429.1 257.2L428.5 258.5L428 260L427.5 261.8L427.1 263.8L426.5 265.5L425.7 267.1L425.1 268.1Z M445 242.4L445.4 242.1L446 241.8L446.7 241.4L447.4 241.1L448.2 240.9L448.9 240.8L449.6 240.9L450.3 241L450.8 241.3L451.3 241.5L451.7 241.7L452 241.9L452 242.1L451.7 242.2L451.2 242.2L450.7 242.3L450.1 242.4L449.6 242.5L449.1 242.6L448.5 242.7L447.8 242.7L447 242.8L446.2 242.7L445.5 242.7L445 242.6Z M437.8 210.5L438.3 210.4L438.9 210.3L439.7 210.2L440.6 210.1L441.6 210.1L442.6 210.4L443.5 211L444.3 211.7L445.1 212.5L445.9 213.4L446.6 214.2L447.4 215L448.1 215.8L448.9 216.7L449.6 217.5L450.4 218.3L451 218.8L451.5 219.2L451.9 219.3L452.3 219.4L452.7 219.3L453.1 219.2L453.5 219L453.8 218.8L454.1 218.5L454.5 217.9L454.9 217.3L455.3 216.6L455.7 216L456 215.6L456.2 215.6L456.1 216.1L456.1 216.8L456 217.7L455.8 218.5L455.5 219.4L455 220L454.5 220.5L453.8 220.9L453.1 221.1L452.4 221.2L451.5 221.1L450.7 220.8L449.9 220.3L449.1 219.6L448.3 218.7L447.5 217.9L446.8 217L446 216.2L445.3 215.4L444.5 214.6L443.8 213.7L443.1 212.9L442.4 212.3L441.8 211.8L441.2 211.4L440.5 211.2L439.7 211L438.9 210.9L438.3 210.8L437.8 210.7Z M476.8 226.7L476.9 227.5L477.1 228.6L477.3 229.8L477.3 231.2L477.1 232.5L476.7 233.7L476.2 234.8L475.5 235.6L474.8 236.4L474.2 237L473.7 237.6L473.3 238.3L472.8 239.3L472.4 240.5L472 241.7L471.3 242.8L470.6 243.8L470.1 244.4L469.9 244.4L469.8 243.5L469.7 242.4L469.8 241L470.2 239.7L470.6 238.4L471.1 237.3L471.8 236.3L472.4 235.4L473.1 234.7L473.7 234.1L474.1 233.5L474.5 232.9L474.8 232L475.1 230.8L475.5 229.6L475.9 228.4L476.3 227.4L476.6 226.7Z M475.6 236.6L476.2 236.1L477 235.3L478 234.4L479.2 233.5L480.5 232.8L481.9 232.3L483.2 231.9L484.5 231.6L485.9 231.4L487.2 231.2L488.7 231.1L490.1 231.2L491.5 231.3L492.9 231.5L494.3 231.9L495.7 232.3L497.1 232.8L498.5 233.5L499.9 234.4L501.2 235.6L502.4 236.8L503.5 238.1L504.4 239.2L505.1 239.9L504.9 240.1L504.1 239.5L502.9 238.8L501.6 237.8L500.1 236.9L498.8 236L497.5 235.3L496.3 234.8L495.1 234.3L493.8 233.9L492.5 233.6L491.2 233.4L489.9 233.2L488.7 233.2L487.4 233.3L486.2 233.4L484.9 233.7L483.7 234L482.5 234.3L481.4 234.7L480.1 235.2L478.8 235.7L477.5 236.2L476.4 236.5L475.6 236.8Z M469.9 244.3L470.5 243.7L471.4 242.8L472.4 241.7L473.6 240.6L474.9 239.7L476.3 239L477.8 238.5L479.3 238.1L480.9 237.9L482.5 237.7L484.1 237.7L485.7 237.8L487.3 238.1L488.9 238.6L490.5 239.1L492 239.8L493.5 240.5L494.9 241.2L496.3 241.9L497.6 242.7L499 243.5L500.2 244.3L501.5 245.3L502.6 246.3L503.7 247.4L504.8 248.6L505.9 249.9L506.8 251.2L507.5 252.2L508.1 252.9L507.9 253.1L507.2 252.5L506.2 251.6L505.1 250.7L503.8 249.6L502.6 248.6L501.4 247.7L500.2 247L499 246.2L497.8 245.4L496.5 244.6L495.2 243.9L493.9 243.2L492.5 242.5L491.1 241.8L489.7 241.2L488.2 240.7L486.8 240.3L485.5 240L484.1 239.9L482.6 239.9L481.2 240.1L479.7 240.3L478.4 240.7L477.1 241L475.9 241.5L474.5 242.1L473.2 242.8L471.9 243.5L470.9 244.1L470.1 244.5Z M465.1 242.2L465.5 242.8L466.1 243.6L466.7 244.7L467.3 245.9L467.7 247.2L468 248.6L468.4 250.2L468.8 252.1L469.2 254L469.3 256L469.2 257.7L469 258.9L468.8 258.9L468.1 257.9L467.3 256.4L466.6 254.6L466.2 252.6L465.8 250.8L465.4 249.2L465.1 247.8L464.8 246.5L464.7 245.2L464.7 244L464.8 243L464.9 242.2Z M468.9 252.1L469.4 251.2L470.1 251.1L470.7 251.1L471.4 251.2L472.1 251.3L472.8 251.6L472.8 251.8L472.2 252.2L471.6 252.6L471 252.8L470.3 252.9L469.7 253L468.9 252.3Z M448.4 261L448.9 261.3L449.6 261.7L450.3 262.3L450.8 262.9L451.2 263.3L451.4 263.5L451.5 263.4L451.9 263.3L452.4 263L453.2 262.9L453.8 262.7L454.3 262.7L454.5 262.9L454.2 263.3L453.9 263.9L453.4 264.6L452.7 265.1L451.8 265.4L450.8 265.3L450 264.9L449.3 264.2L448.7 263.4L448.4 262.5L448.3 261.7L448.2 261.2Z M432.6 248.5L432.3 249.7L431.7 251.4L431.1 253.3L430.4 255.3L429.8 257.2L429.3 259L428.9 260.6L428.6 262.3L428.3 264L428.1 265.8L428 267.6L427.8 269.5L427.8 271.4L427.8 273.3L428 275.3L428 277.4L428 279.7L427.8 282L427.5 284.3L427 286.6L426.4 289L425.8 291.3L425.1 293.6L424.3 295.8L423.4 297.9L422.4 299.9L421.3 301.9L420.1 303.7L418.9 305.3L417.8 306.8L416.7 308.1L415.6 309.2L414.5 310.2L413.5 311L412.7 311.6L412.1 312.1L411.9 311.9L412.3 311.2L412.9 310.4L413.5 309.3L414.2 308.1L414.9 306.8L415.6 305.4L416.3 303.8L417 302L417.8 300.1L418.6 298.2L419.4 296.2L420.1 294.2L420.8 292.2L421.5 290.1L422.1 287.9L422.6 285.7L423.1 283.5L423.4 281.4L423.5 279.5L423.6 277.5L423.5 275.5L423.4 273.5L423.3 271.4L423.4 269.3L423.5 267.3L423.7 265.4L423.9 263.4L424.1 261.5L424.5 259.6L425.1 257.6L426 255.7L427.2 253.7L428.5 251.9L429.8 250.3L431 249L431.8 248.1Z M448.4 261.6L448.9 262L449.7 262.5L450.7 263.2L451.6 264.1L452.4 265.4L452.9 266.9L453 268.7L453 270.7L452.8 272.7L452.6 274.7L452.5 276.6L452.4 278.3L452.4 280L452.4 281.6L452.5 283.1L452.5 284.5L452.7 285.7L452.8 286.8L452.9 287.6L453.1 288.5L453.3 289.4L453.6 290.3L453.8 291.1L454 291.6L453.8 291.8L453.3 291.5L452.6 291.1L451.7 290.6L450.8 289.9L450 288.9L449.4 287.6L449.1 286.3L448.9 284.8L448.8 283.2L448.8 281.6L448.8 280L448.8 278.3L448.8 276.4L449 274.4L449.2 272.4L449.3 270.5L449.4 268.8L449.3 267.5L449.2 266.4L449 265.4L448.8 264.3L448.6 263.3L448.3 262.4L448.2 261.8Z M451.3 288.1L451.1 289.1L450.9 290.3L450.5 291.7L449.9 293.2L449.1 294.6L448.2 296L447.4 297.4L446.4 298.8L445.4 300.3L444.5 301.8L443.5 303.3L442.7 304.8L441.9 306.3L441.1 308L440.3 309.7L439.4 311.2L438.5 312.5L437.7 313.5L437 314.1L436.6 314.5L436.3 314.7L435.9 314.9L435.9 314.8L435.9 314.8L435.3 314L435.5 313.9L435.6 313.8L435.5 313.8L435.5 313.7L435.6 313.3L435.7 312.5L435.9 311.3L436.3 309.8L437 308.2L437.8 306.4L438.6 304.7L439.5 303L440.4 301.5L441.4 299.9L442.4 298.3L443.4 296.8L444.3 295.4L445.2 294L446 292.7L446.9 291.3L448 290.2L449.1 289.2L450.1 288.4L450.9 287.9Z M464.5 273.6L465.1 273.7L466 273.9L467.1 274.2L468.3 274.6L469.4 275.2L470.4 276.1L471.1 277.2L471.7 278.3L472.2 279.6L472.6 280.9L472.9 282.3L473.1 283.8L473.1 285.2L473.1 286.8L472.9 288.4L472.7 290L472.3 291.7L471.9 293.4L471.3 295L470.7 296.8L469.9 298.5L469.1 300.3L468.2 302L467.3 303.7L466.3 305.6L465.1 307.5L463.9 309.4L462.6 311.3L461.3 312.8L460.1 314L458.8 314.9L457.7 315.5L456.6 315.8L455.7 315.9L455.1 316L454.6 316.1L454.2 315.1L454.7 314.8L455.2 314.5L455.9 314.1L456.5 313.6L457.1 312.9L457.7 312L458.5 310.7L459.5 309.1L460.6 307.3L461.8 305.4L462.9 303.6L463.9 301.9L464.8 300.2L465.6 298.6L466.4 296.9L467 295.3L467.6 293.8L468.1 292.2L468.5 290.8L468.8 289.3L469 287.9L469.1 286.5L469.2 285.2L469.1 284L469 282.9L468.8 281.9L468.5 280.8L468.1 279.9L467.7 279L467.4 278.3L467.1 277.5L466.5 276.7L465.9 275.9L465.3 275.1L464.7 274.4L464.3 273.8Z M464.4 273.8L464.9 272.9L465.5 272.7L466.2 272.5L466.9 272.5L467.7 272.6L468.5 272.7L468.5 272.9L467.9 273.4L467.3 273.9L466.7 274.2L466 274.4L465.3 274.6L464.4 274Z M474 278.2L474 277.3L474 276L474 274.5L474.2 272.8L474.6 271.1L475.3 269.6L476.2 268.4L477.4 267.3L478.6 266.3L480 265.5L481.4 264.8L482.9 264.3L484.3 264.1L485.8 264L487.3 264.1L488.9 264.4L490.5 264.9L492 265.6L493.5 266.5L495.1 267.7L496.7 269L498.2 270.6L499.6 272.4L500.6 274.3L501.2 276.5L501.5 278.9L501.6 281.3L501.6 283.7L501.4 286L501.2 288L501 289.8L500.7 291.4L500.2 293L499.7 294.5L499.1 295.9L498.3 297.5L497.4 299.2L496.4 301L495.2 302.7L494 304.5L492.7 306.2L491.4 307.9L490 309.5L488.4 311.1L486.9 312.6L485.3 314.1L483.8 315.5L482.4 316.9L480.9 318.3L479.4 319.6L478 320.9L476.7 322.1L475.6 323.2L474.6 324.2L473.9 325.2L473.3 326.2L472.8 327.2L472.4 328.3L472.1 329.2L471.8 330L471.7 330.7L471.7 331.3L471.9 331.9L472 332.4L472.2 332.9L472.3 333.2L472.1 333.4L471.9 333.1L471.5 332.7L471.2 332.2L470.8 331.6L470.5 330.9L470.4 330L470.3 329L470.4 327.9L470.5 326.6L470.8 325.3L471.2 323.8L472 322.4L473 321L474.2 319.6L475.5 318.3L477 316.9L478.4 315.6L479.8 314.3L481.3 312.9L482.8 311.4L484.4 310L485.9 308.5L487.3 307L488.6 305.5L489.9 304L491.1 302.3L492.2 300.7L493.3 299L494.3 297.4L495.1 295.9L495.8 294.4L496.3 293.1L496.8 291.9L497.1 290.6L497.4 289.2L497.6 287.6L497.8 285.7L497.9 283.5L498 281.3L497.9 279.2L497.7 277.3L497.2 275.7L496.5 274.3L495.5 273L494.2 271.7L492.9 270.6L491.5 269.6L490.2 268.8L489.1 268.3L488 267.9L486.9 267.7L485.8 267.6L484.7 267.7L483.7 267.9L482.7 268.2L481.7 268.7L480.7 269.3L479.7 270L478.8 270.8L478.1 271.6L477.5 272.4L476.9 273.6L476.3 275L475.7 276.4L475.2 277.5L474.8 278.4Z M474.5 278.3L474.9 279.3L475.2 280.7L475.2 282.4L475 284.1L474.7 285.8L474.4 287.3L473.8 288.6L473 289.8L472.1 290.9L471.3 291.8L470.6 292.5L470.1 293.1L469.9 292.9L470.2 292.2L470.6 291.3L471 290.2L471.5 289L471.9 287.8L472.2 286.7L472.5 285.4L472.8 283.8L472.9 282.2L473.2 280.6L473.7 279.2L474.3 278.3Z M490.1 251.9L491 252.5L492.2 253.2L493.6 254.2L495 255.2L496.4 256.3L497.5 257.4L498.7 258.3L499.8 259.3L500.8 260.4L501.8 261.4L502.5 262.3L503.1 262.9L502.9 263.1L502.2 262.7L501.2 262.1L500 261.3L498.8 260.5L497.6 259.6L496.5 258.6L495.3 257.6L493.9 256.5L492.7 255.2L491.5 254L490.6 252.9L489.9 252.1Z M510.1 255.9L510.6 256.5L511.4 257.2L512.3 258.2L513.2 259.2L514 260.4L514.7 261.6L515.3 262.9L515.9 264.3L516.4 265.7L516.9 267.1L517.4 268.4L517.8 269.7L518.2 271.1L518.5 272.5L518.7 273.8L518.9 275.1L519 276.2L519.1 277L518.9 277L518.6 276.3L518.1 275.3L517.6 274.2L517.1 272.9L516.6 271.5L516.2 270.3L515.8 269L515.3 267.6L514.8 266.2L514.3 264.9L513.8 263.6L513.3 262.4L512.6 261.2L512 260L511.3 258.8L510.8 257.7L510.3 256.8L509.9 256.1Z M348.6 316.7L348.7 318L348.8 319.7L349 321.7L349.1 323.8L349.3 325.8L349.6 327.6L350 329.2L350.4 330.8L350.9 332.5L351.5 334L352.2 335.5L352.8 336.9L353.5 338.1L354.3 339.2L355.1 340.3L356 341.2L356.9 342.1L357.8 342.8L358.8 343.5L359.9 344L361 344.5L362.1 344.8L363.3 345.1L364.5 345.2L365.9 345.3L367.4 345.2L369.1 344.9L370.7 344.6L372.3 344.2L373.7 343.8L375 343.3L376.1 342.6L377.2 341.9L378.4 341.1L379.8 340.2L381.3 339.4L382.9 338.6L384.6 337.8L386.3 337L388.1 336.2L389.9 335.5L391.5 334.9L393.1 334.3L394.7 333.7L396.3 333.2L397.9 332.8L399.5 332.5L401.1 332.4L402.5 332.5L403.9 332.7L405.3 333.1L406.6 333.7L407.8 334.4L409 335.3L410.1 336.6L411.1 338.1L412 339.6L412.8 341.3L413.5 342.8L414 344L414.4 345.2L414.5 346.2L414.6 347.1L414.6 347.8L414.5 348.4L414.5 348.9L414.3 348.9L414.1 348.5L414 347.9L413.8 347.2L413.5 346.4L413.1 345.6L412.6 344.8L411.8 343.7L410.8 342.5L409.8 341.2L408.7 339.9L407.6 338.8L406.6 338.1L405.8 337.5L404.9 337.1L404 336.8L403.1 336.5L402.2 336.4L401.1 336.4L400 336.4L398.8 336.7L397.4 337L395.9 337.5L394.4 338L392.9 338.5L391.3 339.1L389.6 339.8L387.9 340.6L386.2 341.3L384.6 342.1L383.1 342.8L381.8 343.6L380.6 344.3L379.4 345.2L378.1 346L376.7 346.8L375.1 347.4L373.4 348L371.6 348.4L369.7 348.8L367.9 349L366 349.2L364.3 349.2L362.6 349L361.1 348.6L359.6 348.1L358.2 347.5L356.8 346.8L355.6 346L354.3 345.1L353.2 344L352.1 342.8L351.1 341.5L350.2 340.2L349.4 338.7L348.6 337.2L347.9 335.5L347.2 333.7L346.6 331.9L346.2 330L346 328L346 325.9L346.3 323.7L346.7 321.5L347.2 319.5L347.7 317.9L348 316.7Z M357.9 314.3L358.8 314.7L359.9 315.2L361.3 315.9L362.8 316.8L364.3 317.7L365.6 318.8L366.8 320L368 321.3L369.2 322.7L370.3 324.1L371.4 325.4L372.4 326.7L373.5 327.9L374.4 329.1L375.3 330.2L376.2 331.3L377.1 332.3L377.9 333.1L378.7 333.9L379.6 334.8L380.5 335.7L381.3 336.6L382 337.3L382.5 337.9L381.9 338.7L381.2 338.5L380.3 338.2L379.1 337.8L377.9 337.3L376.6 336.6L375.5 335.7L374.5 334.7L373.5 333.6L372.6 332.4L371.7 331.3L370.7 330.1L369.8 328.9L368.7 327.7L367.6 326.3L366.5 325L365.3 323.6L364.2 322.4L363.2 321.2L362.2 320L361.1 318.8L360 317.5L359.1 316.3L358.3 315.3L357.7 314.5Z M366.5 347.8L366.4 349.3L366 351.2L365.1 353.1L363.9 355.2L362.7 357.1L361.7 358.9L360.6 360.4L359.5 362L358.2 363.3L356.8 364.4L355.5 365.2L354.6 365.7L354.2 365.5L354.5 364.4L354.9 363L355.5 361.4L356.3 359.7L357.4 358.2L358.3 356.7L359.4 355.1L360.5 353.2L361.6 351.2L362.8 349.4L364.3 348L365.5 347.2Z M399 310L399.4 310.9L400 312.2L400.7 313.7L401.4 315.3L402 317L402.6 318.6L403 320.1L403.3 321.6L403.6 323.1L404 324.5L404.3 325.9L404.8 327.2L405.3 328.5L405.9 329.8L406.5 330.9L407.1 332.1L408 333.3L409 334.5L410.4 335.9L412.2 337.6L414.1 339.3L415.8 341.2L417.2 343L418.1 344.3L417.9 344.5L416.5 343.8L414.5 342.9L412.2 341.6L410.1 340L408.2 338.3L406.6 336.7L405.4 335.2L404.4 333.8L403.6 332.5L403 331.1L402.4 329.8L401.8 328.4L401.3 326.9L400.8 325.3L400.5 323.8L400.2 322.2L399.9 320.7L399.6 319.2L399.4 317.6L399.2 315.9L399 314.1L398.9 312.4L398.9 311L398.8 310Z M397.9 289.5L397.6 290.3L397.2 291.5L396.5 292.6L395.7 293.7L394.9 294.7L394.4 295.6L394.1 296.4L393.8 297.2L393.6 298L393.5 298.8L393.4 299.6L393.5 300.5L393.6 301.5L393.8 302.6L393.9 303.9L394 305.1L394.1 306.2L394.1 307L393.9 307L393.5 306.4L392.8 305.5L392.1 304.4L391.5 303.2L391.1 301.9L390.9 300.7L390.9 299.6L391 298.6L391.1 297.5L391.4 296.5L391.7 295.5L392.2 294.4L392.9 293.3L393.7 292.1L394.7 291.1L395.8 290.2L396.9 289.7L397.7 289.3Z M442.5 300.2L442.2 301.1L441.8 302.3L441.2 303.7L440.6 305.1L440 306.5L439.5 307.6L439 308.7L438.5 309.8L438.1 310.8L437.7 311.8L437.6 312.6L437.6 313.1L437.7 313.7L437.9 314.2L438.2 314.7L438.6 315.2L439.2 315.7L439.8 316L440.6 316.4L441.6 316.7L442.8 316.9L444.1 317L445.3 317.1L446.4 317L447.5 316.7L448.6 316.4L449.8 315.9L451 315.3L452.2 314.6L453.4 313.9L454.5 313.2L455.5 312.4L456.6 311.5L457.7 310.6L458.7 309.6L459.7 308.6L460.7 307.6L461.7 306.5L462.7 305.3L463.7 304.2L464.7 303.2L465.6 302.4L466.3 301.8L467 301.3L467.5 300.8L467.9 300.4L468.3 300.1L468.6 299.8L469.2 300.2L469.1 300.6L469 301.1L468.8 301.7L468.6 302.4L468.3 303.2L467.8 304.2L467.3 305.2L466.6 306.5L465.7 307.7L464.7 309L463.6 310.2L462.5 311.4L461.4 312.4L460.3 313.5L459.2 314.5L458 315.5L456.7 316.4L455.4 317.3L454.2 318L452.8 318.8L451.4 319.5L450 320.1L448.5 320.5L447 320.8L445.4 321L443.8 320.9L442.2 320.8L440.7 320.5L439.3 320.1L438 319.6L436.9 318.9L435.9 318L435 317.1L434.4 316L433.9 314.8L433.6 313.5L433.7 312.1L434 310.7L434.4 309.4L434.9 308.2L435.5 307L436.1 305.8L436.9 304.6L437.9 303.3L439 302.2L440.2 301.2L441.2 300.4L441.9 299.8Z M435.7 314.5L435.4 315.2L434.9 316.2L434.3 317.3L433.6 318.4L432.8 319.5L432.1 320.6L431.5 321.8L430.9 323.2L430.4 324.8L429.8 326.3L429.3 327.8L428.9 329.2L428.4 330.4L428 331.7L427.6 332.9L427.3 334L427 334.9L426.8 335.6L426.6 335.6L426.6 334.9L426.5 333.9L426.5 332.7L426.5 331.4L426.5 330L426.7 328.6L427.1 327.2L427.6 325.6L428.1 324L428.7 322.4L429.4 320.8L430.1 319.4L430.8 318.1L431.8 316.9L432.8 316L433.9 315.2L434.8 314.7L435.5 314.3Z M440.4 318.8L440.9 319.7L441.7 321L442.5 322.4L443.4 324L444.2 325.6L444.9 327L445.6 328.2L446.4 329.5L447.3 330.8L448.2 332L449.2 333.2L450.2 334.4L451.3 335.5L452.5 336.6L453.8 337.7L455.1 338.8L456.4 339.8L457.7 340.7L459.1 341.6L460.4 342.4L461.8 343.1L463.2 343.8L464.6 344.4L466.1 345L467.8 345.4L469.6 345.8L471.4 346.1L473.3 346.3L475 346.4L476.7 346.5L478.2 346.4L479.8 346.3L481.2 346.1L482.7 346L484 345.8L485.1 345.6L486.1 345.3L487 344.9L487.9 344.4L488.7 343.9L489.3 343.4L489.8 343.1L490.2 343.5L489.8 343.9L489.4 344.6L488.8 345.4L488.1 346.3L487.2 347.1L486.1 347.8L484.8 348.5L483.4 349L481.9 349.5L480.2 349.8L478.5 350.1L476.7 350.1L474.9 350.1L472.9 349.9L470.9 349.7L468.9 349.4L466.9 348.9L465.1 348.4L463.3 347.8L461.7 347.1L460.1 346.4L458.6 345.5L457.1 344.6L455.7 343.7L454.2 342.7L452.8 341.6L451.4 340.5L450.1 339.3L448.8 338.1L447.6 336.8L446.4 335.6L445.4 334.3L444.3 332.9L443.4 331.5L442.5 330.1L441.7 328.6L441 327L440.4 325.1L440.1 323.3L439.9 321.5L439.7 320.1L439.6 319Z M434 344.4L434.1 345.2L434.2 346.4L434.2 347.7L434.3 349L434.3 350.1L434.4 350.9L434.6 351.4L434.9 352L435.2 352.4L435.6 352.7L436.2 353.1L437 353.3L438.1 353.5L439.6 353.5L441.3 353.6L443.1 353.8L444.6 354.1L445.6 354.3L445.6 354.5L444.6 354.8L443.1 355.2L441.4 355.6L439.6 355.8L437.9 355.7L436.4 355.5L435.3 355.1L434.4 354.6L433.6 354L433 353.2L432.5 352.3L432.2 351.3L432.1 350.1L432.2 348.8L432.6 347.4L433 346.2L433.5 345.1L433.8 344.4Z M433.4 352.3L433 353.2L432.4 354.4L431.6 355.8L430.5 357L429.1 358.1L427.6 359.2L426.1 360.2L424.3 361.2L422.5 362.2L420.7 363.1L419 364L417.5 364.8L416.2 365.5L415.1 366.1L414 366.7L413 367.2L411.8 367.7L410.6 368.2L409.1 368.5L407.5 368.8L405.8 368.9L404.3 369L403 369.1L402 369.1L402 368.9L402.8 368.5L404 367.9L405.3 367.2L406.8 366.5L408.2 365.8L409.4 365.2L410.5 364.7L411.5 364.2L412.4 363.7L413.5 363.2L414.6 362.5L415.9 361.8L417.4 361L419.1 360.1L420.9 359.2L422.7 358.3L424.3 357.3L425.8 356.4L427.1 355.5L428.3 354.4L429.6 353.6L431 352.9L432.3 352.4L433.2 352.1Z M456.8 342.2L457.3 343L457.9 344L458.5 345.4L458.9 347L459.1 348.6L459 350.1L458.7 351.6L458.2 353.1L457.6 354.6L456.9 356L456.2 357.3L455.3 358.5L454.4 359.6L453.2 360.5L451.9 361.1L450.7 361.6L449.7 362L449 362.3L448.8 362.1L449.4 361.5L450.1 360.7L451 359.8L451.9 358.9L452.7 358L453.5 357.1L454.1 356.1L454.8 354.9L455.4 353.6L456 352.3L456.4 351L456.6 349.9L456.7 348.6L456.5 347.3L456.4 345.8L456.4 344.4L456.5 343.1L456.6 342.2Z M457.8 351L458.3 350.6L459 350.1L459.9 349.4L461 348.8L462.1 348.3L463.4 348.2L464.7 348.4L465.9 349L467.1 349.7L468.2 350.4L469.3 350.9L470.1 351.2L470.8 351.1L471.6 350.7L472.6 350.2L473.7 349.6L475.1 349.1L476.8 349L478.7 349.4L480.8 350.2L482.9 351.1L484.9 351.9L486.5 352.4L487.4 352.3L487.8 351.9L488.3 350.7L488.8 348.9L489.2 347.1L489.6 345.5L489.9 344.4L490.1 344.4L490.2 345.5L490.3 347.2L490.4 349.2L490.2 351.2L489.6 353L488.2 354.3L486.3 354.4L484.3 353.9L482.1 353L480 352.1L478.1 351.4L476.6 351L475.5 351.1L474.6 351.5L473.6 352L472.5 352.6L471.3 353.1L469.9 353.2L468.5 352.9L467.2 352.2L466 351.4L465 350.6L464 350L463.2 349.6L462.4 349.6L461.4 349.8L460.3 350.2L459.3 350.6L458.5 351L457.8 351.2Z M410.1 337.7L410.9 338.3L411.9 339.2L412.8 340.4L413.7 341.7L414.5 342.9L415.1 343.7L415.7 344.1L416.3 344.5L416.8 345L417.4 345.4L418 345.7L418.3 346L418.3 346.2L417.8 346.2L417.2 346.3L416.4 346.4L415.5 346.2L414.5 345.9L413.7 345.1L412.8 344.1L411.9 342.9L411.1 341.6L410.4 340.1L410.1 338.8L409.9 337.9Z M414.5 344.4L415.2 345.2L415.2 346L415.1 346.8L414.9 347.5L414.6 348.3L414.1 349L413.9 349L413.6 348.2L413.3 347.4L413.3 346.6L413.4 345.9L413.5 345.1L414.3 344.4Z M358.7 371L359.6 371.1L360.8 371.2L362.3 371.3L363.8 371.5L365.3 371.7L366.7 371.8L368 372L369.4 372.2L370.9 372.3L372.3 372.4L373.8 372.4L375.2 372.4L376.6 372.2L378.1 372L379.5 371.8L381 371.5L382.4 371.1L383.7 370.7L385.1 370.3L386.4 369.8L387.7 369.2L389 368.6L390.2 368L391.3 367.5L392.3 367L393.2 366.3L394.2 365.7L395.3 365L396.6 364.6L398.1 364.8L399.2 365.7L399.9 367L400.4 368.4L400.6 369.7L400.8 370.9L401 371.7L400.8 371.7L400.3 371.1L399.6 370.2L398.8 369.1L398.1 368.1L397.4 367.5L397.1 367.4L397.1 367.5L396.7 367.7L395.9 368.2L395 368.9L393.9 369.6L392.7 370.3L391.5 370.8L390.3 371.4L388.9 372L387.5 372.6L386.1 373.2L384.7 373.7L383.2 374.1L381.7 374.5L380.1 374.8L378.5 375.1L377 375.3L375.4 375.4L373.8 375.5L372.2 375.5L370.7 375.4L369.1 375.2L367.6 375L366.1 374.8L364.6 374.3L363.1 373.7L361.7 373L360.5 372.3L359.4 371.6L358.7 371.2Z M339.8 364.3L340.6 364.2L341.8 364.1L343.1 364.2L344.4 364.5L345.7 364.8L346.8 365.3L347.7 365.9L348.5 366.6L349.1 367.4L349.4 368.2L349.7 368.8L349.9 369.3L349.7 369.5L349.3 369.2L348.6 368.8L348 368.3L347.3 367.8L346.7 367.3L346 366.9L345.1 366.6L344 366.2L342.7 365.9L341.5 365.5L340.5 364.9L339.8 364.5Z M476.8 371.6L477.6 371.9L478.6 372.3L479.8 372.9L480.9 373.7L481.9 374.5L482.8 375.2L483.8 375.8L484.8 376.4L485.9 377.1L486.8 377.8L487.4 378.6L487.8 379.3L487.8 379.5L486.9 379.5L485.9 379.4L484.8 379L483.7 378.4L482.6 377.7L481.6 377L480.5 376.3L479.5 375.4L478.4 374.5L477.6 373.5L477 372.5L476.6 371.8Z M400 370.9L401.2 371.1L402.7 371.4L404.6 371.8L406.5 372.2L408.5 372.6L410.2 373L411.8 373.3L413.4 373.6L415 373.8L416.6 373.9L418.2 374L420 374L422 374L424.2 373.8L426.5 373.8L428.8 373.8L430.6 373.8L432 373.9L432 374.1L430.7 374.4L428.9 374.9L426.7 375.3L424.4 375.7L422.1 375.9L420 376L418.2 376L416.5 375.9L414.8 375.7L413.1 375.5L411.5 375.3L409.8 375L408 374.5L406 373.9L404.2 373.1L402.4 372.3L401 371.6L400 371.1Z M420.1 300.1L419.8 300.8L419.4 301.8L418.8 303L418.2 304.3L417.6 305.5L416.9 306.6L416.2 307.6L415.5 308.5L414.9 309.5L414.2 310.4L413.6 311.4L412.9 312.5L412.2 313.8L411.4 315.3L410.5 316.7L409.6 318.1L408.7 319.2L408.1 320L407.9 320L408.2 319L408.5 317.6L409 316L409.6 314.4L410.4 312.8L411.1 311.5L411.8 310.3L412.5 309.3L413.1 308.3L413.8 307.3L414.5 306.4L415.1 305.4L415.9 304.4L416.7 303.3L417.7 302.2L418.6 301.3L419.3 300.5L419.9 299.9Z M519.7 272.1L519.4 272.8L519 273.8L518.6 275L518.1 276.3L517.6 277.7L517.2 279L516.8 280.4L516.4 281.9L516.1 283.4L515.7 285L515.3 286.5L514.9 288L514.5 289.3L514.2 290.5L513.8 291.7L513.4 293L512.9 294.3L512.3 295.8L511.6 297.5L510.8 299.3L510 301.2L509.1 303.2L508.2 305.1L507.3 306.9L506.4 308.7L505.6 310.3L504.7 312L503.8 313.6L503 315.2L502.1 316.9L501.2 318.8L500.3 320.7L499.4 322.7L498.6 324.6L497.8 326.4L497.2 328L496.7 329.5L496.3 330.9L496 332.2L495.8 333.4L495.6 334.4L495.5 335.1L494.5 334.9L494.7 334.2L494.8 333.2L495 332L495.3 330.6L495.7 329.2L496.2 327.6L496.8 326L497.6 324.1L498.4 322.2L499.3 320.2L500.2 318.3L501.1 316.5L502 314.7L502.8 313.1L503.7 311.4L504.6 309.8L505.4 308.2L506.3 306.5L507.2 304.6L508.1 302.7L509 300.8L509.8 298.9L510.6 297.1L511.3 295.4L511.9 293.9L512.3 292.6L512.7 291.4L513.1 290.2L513.5 289L513.9 287.6L514.3 286.2L514.6 284.7L515 283.2L515.4 281.6L515.8 280.1L516.2 278.8L516.7 277.4L517.3 276L517.9 274.8L518.5 273.6L518.9 272.6L519.3 271.9Z M497 327.9L496.8 328.7L496.6 329.8L496.3 331.1L496.1 332.5L495.9 333.9L495.8 335.1L495.8 336.2L495.9 337.2L496 338.2L496.2 339.3L496.4 340.3L496.7 341.4L497.1 342.5L497.6 343.7L498.2 344.9L498.8 346.2L499.4 347.6L500 349L500.5 350.4L501.1 351.9L501.6 353.5L502.1 355L502.5 356.6L502.9 358.1L503.1 359.5L503.3 360.9L503.4 362.3L503.5 363.6L503.5 364.9L503.4 366.2L503.2 367.5L503 368.7L502.6 370L502.2 371.1L501.7 372.3L501 373.4L500.2 374.6L499.2 375.6L498.2 376.6L497.2 377.6L496.1 378.4L495.1 379.2L494.1 380L493 380.6L492 381.1L491.1 381.6L490.3 382.1L489.7 382.6L489.1 383.2L488.6 383.8L488.1 384.3L487.8 385L487.5 385.6L487.3 386.3L487.2 387.2L487.2 388.4L487.3 389.7L487.3 391L487.2 392.1L487.1 392.9L485.9 393.1L485.6 392.3L485.3 391.2L485 389.9L484.8 388.5L484.8 387.1L484.9 385.9L485.2 384.8L485.6 383.9L486.1 383L486.7 382.2L487.4 381.5L488.1 380.8L489 380.1L489.9 379.5L490.9 379L491.9 378.5L492.8 378L493.7 377.4L494.6 376.6L495.6 375.8L496.6 374.9L497.5 374L498.3 373.1L499 372.2L499.5 371.2L500 370.2L500.3 369.2L500.6 368.2L500.9 367.1L501 366L501.1 364.8L501.1 363.6L501.1 362.4L501 361.2L500.8 359.9L500.5 358.5L500.2 357.2L499.8 355.7L499.3 354.2L498.8 352.7L498.3 351.2L497.8 349.8L497.3 348.5L496.7 347.2L496 345.9L495.4 344.6L494.9 343.3L494.5 342L494.2 340.8L494.1 339.6L494 338.4L494 337.3L494 336.1L494.2 334.9L494.4 333.6L494.8 332.2L495.3 330.8L495.7 329.6L496.1 328.5L496.4 327.7Z M520.1 277.8L520.4 278.4L520.9 279.4L521.4 280.5L521.9 281.7L522.5 282.9L523 284.1L523.5 285.3L523.9 286.6L524.5 287.9L525 289.2L525.6 290.5L526.3 291.8L527.2 293.1L528.1 294.6L529.1 296.2L530 297.7L530.7 299L531.2 299.9L531 300.1L530.3 299.3L529.2 298.3L528 297L526.8 295.6L525.8 294L524.9 292.6L524.1 291.3L523.5 289.9L522.9 288.5L522.4 287.2L521.9 285.9L521.4 284.7L521 283.4L520.7 282.1L520.4 280.8L520.2 279.6L520 278.6L519.9 277.8Z M523.4 296.7L523.4 297.5L523.5 298.5L523.5 299.7L523.6 301L523.6 302.2L523.7 303.2L523.9 304.1L524.1 304.9L524.3 305.7L524.6 306.6L524.9 307.5L525.3 308.5L525.8 309.7L526.3 311L526.9 312.3L527.5 313.7L528.1 315L528.7 316.3L529.1 317.6L529.6 318.9L529.9 320.3L530.3 321.5L530.5 322.5L530.7 323.3L530.5 323.3L530.1 322.7L529.5 321.8L528.9 320.7L528.2 319.5L527.5 318.3L526.9 317.1L526.4 315.8L525.8 314.5L525.1 313.1L524.5 311.8L524 310.5L523.5 309.3L523.1 308.2L522.7 307.2L522.4 306.3L522.2 305.4L522 304.4L521.9 303.4L521.9 302.2L522.1 300.9L522.4 299.6L522.7 298.4L523 297.4L523.2 296.7Z M521.2 324.4L521 325L520.7 325.7L520.4 326.5L520.1 327.4L519.8 328.3L519.7 329.1L519.7 329.9L519.7 330.8L519.8 331.7L519.8 332.6L519.9 333.5L520 334.2L520.1 334.8L520.3 335.2L520.6 335.8L520.9 336.4L521.1 337.2L521.1 338.2L520.8 339.1L520.4 340L519.9 340.8L519.4 341.5L519.1 342.3L518.9 343L518.8 343.9L518.8 344.9L518.9 346L519 347.1L519.2 348.1L519.4 349.1L519.7 350.1L520 351.1L520.5 352.1L520.9 352.9L521.4 353.7L521.9 354.2L522.3 354.5L522.9 354.8L523.5 355L524.1 355.1L524.7 355.1L525.3 355L525.9 354.8L526.5 354.5L527.2 354L527.9 353.4L528.6 352.8L529.2 352.2L529.9 351.4L530.7 350.5L531.4 349.5L532.2 348.6L532.8 347.7L533.2 347.2L533.4 347.2L533.1 347.9L532.8 348.9L532.4 350.1L531.9 351.3L531.4 352.4L530.8 353.4L530.1 354.3L529.4 355L528.6 355.7L527.7 356.4L526.8 356.9L525.9 357.2L524.9 357.3L524 357.3L523 357.2L522.1 356.9L521.2 356.4L520.3 355.8L519.6 355L519 354.1L518.4 353L518 351.9L517.6 350.8L517.2 349.7L517 348.6L516.8 347.4L516.6 346.1L516.6 344.9L516.6 343.7L516.7 342.6L517 341.5L517.5 340.5L518 339.6L518.4 338.9L518.8 338.3L518.9 337.8L518.9 337.5L518.8 337.2L518.6 336.7L518.3 336.2L518 335.4L517.8 334.6L517.7 333.7L517.6 332.7L517.6 331.7L517.7 330.7L517.8 329.7L518.1 328.7L518.5 327.8L519 326.9L519.6 326.1L520.2 325.4L520.7 324.8L521 324.4Z M520.5 338.9L521.3 338.3L521.9 338.4L522.4 338.6L523 338.8L523.5 339.2L524 339.7L524 339.9L523.3 340.1L522.7 340.3L522.1 340.2L521.5 340.1L520.9 339.9L520.5 339.1Z M519 354.9L519.6 355.2L520.3 355.6L521.1 356.1L521.8 356.8L522.4 357.6L523 358.2L523.5 358.8L524.1 359.5L524.5 360.2L524.8 361L525 361.6L525.1 362.1L524.9 362.3L524.4 362.1L523.8 361.8L523.1 361.4L522.5 360.8L521.9 360.2L521.4 359.6L520.8 358.9L520.2 358.2L519.6 357.4L519.2 356.5L519 355.7L518.8 355.1Z M494.3 391.6L495.2 390.8L496.4 389.8L497.9 388.5L499.5 387.3L501.2 386.1L502.8 385.1L504.3 384.3L505.8 383.5L507.3 382.8L508.8 382.1L510.3 381.4L511.7 380.7L513.1 380L514.4 379.2L515.8 378.4L517.1 377.7L518.3 376.9L519.4 376.2L520.5 375.6L521.4 375L522.4 374.4L523.3 374L524.1 373.7L524.7 373.5L525.3 374.3L524.9 374.8L524.3 375.4L523.6 376.1L522.7 376.8L521.7 377.5L520.6 378.2L519.5 378.8L518.2 379.6L516.9 380.3L515.5 381.1L514.1 381.9L512.7 382.7L511.3 383.4L509.8 384.1L508.3 384.8L506.8 385.6L505.3 386.3L503.8 387.1L502.3 388L500.5 388.9L498.7 389.8L497 390.7L495.5 391.3L494.5 391.8Z M497.8 394.9L498.6 394.5L499.8 393.9L501.1 393.2L502.6 392.7L504.1 392.3L505.3 391.9L506.3 391.6L507.3 391.1L508.2 390.7L509.2 390.3L510.1 389.9L511 389.8L511.9 389.9L512.7 390.2L513.3 390.6L513.8 391L514.2 391.4L514.4 391.6L514.4 391.8L514 391.7L513.5 391.6L512.9 391.4L512.3 391.3L511.7 391.3L511.2 391.4L510.6 391.6L509.9 391.9L509 392.3L508.1 392.8L507 393.2L505.9 393.7L504.6 394.1L503.1 394.5L501.6 394.8L500.1 395L498.8 395.1L497.8 395.1Z M506.6 397.1L506.8 396.5L507 395.8L507.4 395L508.1 394.3L508.7 393.7L509.3 393.1L509.9 392.6L510.4 392.2L511.1 391.9L511.7 391.7L512.3 391.7L512.7 391.6L512.9 391.8L512.7 392.2L512.5 392.7L512.1 393.3L511.7 393.8L511.2 394.3L510.7 394.7L510.2 395.2L509.6 395.8L508.9 396.4L508.1 396.8L507.4 397.1L506.8 397.3Z M363.2 296.9L362.7 297.6L361.9 298.4L360.9 299.3L359.9 300.1L358.9 300.8L358 301.5L357.1 302.3L356.2 303.3L355.3 304.3L354.4 305.5L353.5 306.6L352.7 307.8L352 308.9L351.3 310.2L350.6 311.5L349.9 312.8L349.2 314.2L348.3 315.5L347.4 316.8L346.4 318L345.5 319.2L344.5 320.3L343.5 321.4L342.5 322.4L341.5 323.5L340.5 324.5L339.5 325.3L338.6 326.2L337.8 327L337.2 327.8L336.7 328.7L336.3 329.6L335.9 330.6L335.6 331.6L335.4 332.5L335.3 333.4L335.3 334.4L335.3 335.5L335.3 336.7L335.2 338L335 339.1L334.9 339.9L333.9 340.1L333.5 339.5L332.8 338.5L332.1 337.4L331.6 336.1L331.3 334.6L331.3 333.2L331.5 331.8L331.8 330.6L332.2 329.3L332.7 328L333.3 326.8L334 325.6L334.8 324.5L335.8 323.4L336.8 322.5L337.8 321.6L338.8 320.7L339.7 319.8L340.6 318.7L341.5 317.7L342.5 316.6L343.4 315.5L344.3 314.4L345.1 313.3L345.8 312.2L346.5 310.9L347.2 309.6L347.9 308.3L348.6 306.9L349.5 305.6L350.4 304.3L351.3 303.1L352.3 301.8L353.3 300.7L354.3 299.5L355.4 298.5L356.7 297.6L358.1 296.8L359.5 296.4L360.8 296.2L362 296.1L362.8 296.1Z M456.7 342.2C457.6 341.8 462.9 345.9 465.6 346.7C468.3 347.5 474 348.3 476.7 348.3C479.4 348.3 483.8 347.4 485.6 346.7C487.4 346 489.5 343.3 490 343.3C490.5 343.3 489.8 345.8 489.5 347C489.2 348.2 488.8 352.1 487.8 352.5C486.8 352.9 483.5 350.7 482 350.3C480.5 349.9 478.3 349.3 476.7 349.5C475.1 349.7 471.8 351.6 470 351.5C468.2 351.4 464.8 348.8 463.3 348.5C461.8 348.2 459.4 350.3 458.5 349.5C457.6 348.7 455.8 342.6 456.7 342.2Z"/>
<path id="shd" d="M298.5 251.5C298.6 252.2 299.2 254.4 299.4 256C299.6 257.6 299.6 259.1 299.5 261C299.4 262.9 299.2 264.5 298.9 267.2C298.6 269.9 297.2 274 297.8 277.2C298.4 280.4 300.5 283.1 302.2 286.1C303.9 289.1 306.1 292.6 307.8 295C309.5 297.4 310 298.9 312.2 300.6C314.4 302.3 319.6 304.3 321.1 305 M302.2 255.6C303.1 254.7 305.4 251.9 307.8 250C310.2 248.1 313.4 246 316.7 244.4C320 242.8 324.2 241.8 327.8 240.6C331.4 239.4 335 238.6 338 237.5C341 236.4 343.7 234.8 346 234C348.3 233.2 350.8 232.8 351.7 232.5 M258.9 291.7C260.2 292.2 263.9 294.8 266.7 295C269.5 295.2 273.6 293.4 275.6 292.8C277.6 292.2 277 291 278.9 291.7C280.8 292.4 283.5 295.9 286.7 297.2C289.9 298.5 294.3 299.2 297.8 299.4C301.3 299.6 304.7 297.9 307.8 298.6C310.9 299.3 313.7 302.8 316.7 303.5C319.7 304.2 323.4 303.7 325.6 302.8C327.8 301.9 328.5 299.8 330 298.3C331.5 296.8 333.1 295 334.4 293.9C335.7 292.8 337.4 292.1 338 291.7 M330 238.3C331.1 238 334.3 237.4 336.7 236.7C339.1 236 341.9 234.7 344.4 233.9C346.9 233.1 350.5 232.3 351.7 232 M380.6 232.2C381.8 231.5 385.1 229.5 387.8 227.8C390.5 226.1 394.3 223.5 396.7 222.2C399.1 220.9 400 220.4 402.2 220C404.4 219.6 407 219.9 410 219.6C413 219.3 416.9 219 420 218.3C423.1 217.6 426.9 216.1 428.3 215.6 M360 251.1C359 252.1 355.1 254.9 353.9 257.2C352.7 259.5 352.5 262.2 352.8 265C353.1 267.8 354.4 270.9 355.6 273.9C356.8 276.9 358.7 279.8 360 282.8C361.3 285.8 361.8 289.3 363.3 291.7C364.8 294.1 366.7 296.1 368.9 297.2C371.1 298.3 375.4 298.1 376.7 298.3 M372.8 248.3C372.7 249.8 372.5 254 372.2 257.2C371.9 260.3 370.4 264.6 371.1 267.2C371.9 269.8 374.7 270.6 376.7 272.8C378.7 275 381.4 278.4 383.3 280.6C385.2 282.8 387.1 285.2 387.8 286.1 M363.3 293.9C365.5 294.6 372.6 299.4 376.7 298.3C380.8 297.2 384.5 288.9 387.8 287.2C391.1 285.5 393.4 288.4 396.7 288.3C400 288.2 404.2 287.1 407.8 286.7C411.4 286.2 415.3 286.1 418 285.6C420.7 285.1 423 283.9 424 283.5 M404 228.2C405.6 228.3 410.4 228.6 413.3 228.7C416.2 228.8 418.9 228.7 421.7 228.5C424.5 228.3 427.2 228.2 430 227.8C432.8 227.5 435.6 227.1 438.3 226.4C441 225.7 443.8 224.8 446 223.8C448.2 222.8 449.8 221.9 451.5 220.5C453.2 219.1 455.3 216.4 456.1 215.6 M404 227.8C404.2 228.6 405.6 231 405.2 232.8C404.8 234.6 403 236.9 401.9 238.7C400.8 240.5 399.3 241.9 398.5 243.7C397.7 245.5 397.3 247.6 397.2 249.5C397.1 251.4 397.3 253.5 397.9 255.3C398.5 257.1 399.1 259.1 400.8 260.3C402.5 261.6 406.6 262.4 407.8 262.8 M424.4 268C424.8 266.3 425.4 260.8 426.7 257.8C428 254.8 429.8 252.2 432.2 250C434.6 247.8 438.3 245.8 441.1 244.4C443.9 243 446.7 243 448.9 241.7C451.1 240.4 453.1 238.1 454.4 236.7C455.7 235.3 456.3 233.7 456.7 233.1 M476.7 226.7C476.5 227.8 476.4 231.5 475.6 233.3C474.9 235.2 473.1 236 472.2 237.8C471.3 239.7 470.4 243.3 470 244.4 M465 242.2C465.3 243.3 466.1 246.1 466.7 248.9C467.3 251.7 468.5 257.2 468.9 258.9 M432.2 248.3C431.4 250 428.3 254.8 427.2 258.3C426.1 261.8 425.9 265.5 425.6 269.4C425.3 273.3 426.2 277.4 425.6 281.7C425 286 423.7 290.9 422.2 295C420.7 299.1 418.4 303.3 416.7 306.1C415 308.9 412.8 311 412 312 M448.3 261.7C448.8 262.6 450.7 264.4 451.1 267.2C451.5 270 450.6 275 450.6 278.3C450.6 281.6 450.6 285 451.1 287.2C451.7 289.4 453.4 290.9 453.9 291.7 M451.1 288C450.4 289.2 448.4 292.4 446.7 295C445 297.6 442.8 300.9 441.1 303.9C439.4 306.9 437.6 311.2 436.7 313C435.8 314.8 435.8 314.2 435.6 314.4 M464.4 273.7C465.1 274.3 467.8 275.5 468.9 277.2C470 278.9 470.9 281.3 471.1 283.9C471.3 286.5 470.9 289.6 470 292.8C469.1 296 467.5 299.4 465.6 302.8C463.8 306.2 460.8 310.9 458.9 313C457 315.1 455.1 315.2 454.4 315.6 M474.4 278.3C474.8 277 475.2 272.6 476.7 270.6C478.2 268.6 480.9 266.7 483.3 266.1C485.7 265.5 488.5 265.7 491.1 267.2C493.7 268.7 497.5 271.6 498.9 275C500.3 278.4 499.8 284.2 499.4 287.8C499 291.4 498.3 293.6 496.7 296.7C495.1 299.8 492.6 303.5 490 306.7C487.4 309.9 483.9 312.8 481.1 315.6C478.3 318.4 475 320.9 473.3 323.3C471.6 325.7 471.3 328.3 471.1 330C470.9 331.7 472 332.8 472.2 333.3 M348.3 316.7C348.2 318.6 347.3 324.3 347.8 327.8C348.3 331.3 349.6 335 351.1 337.8C352.6 340.6 354.5 342.8 356.7 344.4C358.9 346 361.4 347 364.4 347.2C367.3 347.4 371.4 346.6 374.4 345.6C377.4 344.6 379.2 342.6 382.2 341.1C385.2 339.6 389 337.8 392.2 336.7C395.4 335.6 398.5 334.4 401.1 334.4C403.7 334.4 405.8 335 407.8 336.7C409.8 338.4 412.2 342.4 413.3 344.4C414.4 346.4 414.2 348.1 414.4 348.9 M357.8 314.4C358.9 315.3 362.2 317.8 364.4 320C366.6 322.2 369.1 325.4 371.1 327.8C373.2 330.2 374.9 332.6 376.7 334.4C378.5 336.1 381.3 337.6 382.2 338.3 M366 347.5C365 349.2 361.9 354.8 360 357.8C358.1 360.8 355.3 364.3 354.4 365.6 M398.9 310C399.3 311.5 400.4 315.9 401.1 318.9C401.8 321.9 402.2 325 403.3 327.8C404.4 330.6 405.4 332.8 407.8 335.6C410.2 338.4 416.3 342.9 418 344.4 M397.8 289.4C397.1 290.3 394.2 293.1 393.3 295C392.4 296.9 392.1 298.6 392.2 300.6C392.3 302.6 393.7 305.9 394 307 M442.2 300C441.5 301.1 438.9 304.5 437.8 306.7C436.7 308.9 435.4 311.4 435.6 313.3C435.8 315.2 437 316.9 438.9 317.8C440.8 318.7 444.1 319.3 446.7 318.9C449.3 318.5 452 317.1 454.4 315.6C456.8 314.1 459.1 312.1 461.1 310C463.2 307.9 465.4 305 466.7 303.3C468 301.6 468.5 300.6 468.9 300 M435.6 314.4C434.9 315.3 432.4 317.6 431.1 320C429.8 322.4 428.5 326.3 427.8 328.9C427.1 331.5 426.9 334.5 426.7 335.6 M440 318.9C440.6 320.4 441.8 325 443.3 327.8C444.8 330.6 446.7 333.2 448.9 335.6C451.1 338 453.9 340.4 456.7 342.2C459.5 344 462.3 345.7 465.6 346.7C468.9 347.7 473.4 348.3 476.7 348.3C480 348.3 483.4 347.5 485.6 346.7C487.8 345.9 489.3 343.9 490 343.3 M433.3 352.2C432.2 353.1 429.5 355.9 426.7 357.8C423.9 359.7 419.5 361.8 416.7 363.3C413.9 364.8 412.4 365.8 410 366.7C407.6 367.6 403.3 368.6 402 369 M456.7 342.2C456.9 343.5 458.2 347.4 457.8 350C457.4 352.6 455.9 355.8 454.4 357.8C452.9 359.8 449.8 361.5 448.9 362.2 M358.7 371.1C360 371.5 363.6 372.8 366.4 373.3C369.2 373.8 372.3 374.1 375.3 373.9C378.3 373.7 381.4 373 384.2 372.2C387 371.4 389.8 369.9 392 368.9C394.2 367.9 396.1 365.6 397.6 366.1C399.1 366.6 400.3 370.8 400.9 371.7 M496.7 327.8C496.4 329 495.2 332.7 495 335C494.8 337.3 495 339.3 495.6 341.7C496.2 344.1 497.9 346.6 498.9 349.4C499.9 352.2 501.1 355.5 501.7 358.3C502.2 361.1 502.5 363.7 502.2 366.1C501.9 368.5 501.3 370.8 500 372.8C498.7 374.8 496.2 376.8 494.4 378.3C492.5 379.8 490.3 380.4 488.9 381.7C487.5 383 486.5 384.2 486.1 386.1C485.7 388 486.4 391.9 486.5 393 M363 296.5C361.9 297.1 358.7 298.3 356.7 300C354.7 301.7 352.8 304.3 351.1 306.7C349.4 309.1 348.4 312 346.7 314.4C345 316.8 343 319.1 341.1 321.1C339.2 323.2 336.9 324.7 335.6 326.7C334.3 328.7 333.5 331.1 333.3 333.3C333.1 335.5 334.2 338.9 334.4 340" fill="none" stroke-linecap="round" stroke-linejoin="round"/>
<path id="shl" d="M275 252.2C276.4 251.5 280.1 249.3 283.3 247.8C286.5 246.3 290.7 244.6 294.4 243.3C298.1 242 301.9 241.2 305.6 240C309.3 238.8 313 237.7 316.7 236.1C320.4 234.5 324.5 232.5 327.8 230.6C331.1 228.7 333.6 226.4 336.7 224.6C339.8 222.8 343.2 221.3 346.7 219.8C350.2 218.3 354.1 216.9 357.8 215.8C361.5 214.7 365.2 213.8 368.9 213C372.6 212.2 376.5 211.4 380 211.3C383.5 211.2 387.2 211.6 390 212.2C392.8 212.8 394.8 213.6 396.7 214.7C398.6 215.8 400.4 218 401.1 218.7 M315.6 230L316.9 235.8 M304.4 229.4C305.7 229.8 310.1 230.7 312.2 231.7C314.2 232.7 315.9 234.9 316.7 235.6 M286.7 254.7C287.8 254.8 290.9 255 293 255.2C295.1 255.3 298.3 255.5 299.4 255.6 M275 252.2C275.8 252.6 279.2 253 279.5 254.5C279.8 256 277.9 259 276.7 261.1C275.5 263.2 273.1 264.7 272.2 267.2C271.3 269.7 270.8 273.1 271.1 276.1C271.4 279.1 273.1 282.4 273.9 285C274.6 287.6 275.3 290.6 275.6 291.7 M333.3 249.4C331.6 250.5 325.6 253.1 323.3 256.1C321 259.1 319.6 263.5 319.4 267.2C319.2 270.9 320.4 274.6 322.2 278.3C324 282 328 286.8 330 289.4C332 292 333.7 293.1 334.4 293.9 M262.8 280.6C263.6 279.7 267.2 276.7 267.8 275C268.4 273.3 266.9 271.3 266.7 270.6 M267.8 275L270.8 272.8 M296 276C296.4 276.7 298.4 279 298.5 280C298.6 281 296.8 281.7 296.5 282 M351.7 226.1C352.5 225.9 354.8 224.9 356.7 224.7C358.6 224.5 360.9 224.8 363.3 224.7C365.7 224.6 369.1 223.6 371.1 223.9C373.2 224.2 374.3 225.7 375.6 226.7C376.9 227.7 378.1 229.1 378.9 230C379.7 230.9 380.3 231.8 380.6 232.2 M370.6 223.9L372.2 219.8 M395.6 213.9C396.2 213.2 397.7 211.1 398.9 210C400.1 208.9 402.1 207.7 402.8 207.2 M330 250.6L336.7 252.8 M336.7 263.3C337.8 263.2 340.8 263 343 263C345.2 263 348.8 263.2 350 263.3 M330 283.9C330.6 285 333.3 288.4 333.3 290.6C333.3 292.8 330.6 296.1 330 297.2 M333.3 290.6L340.6 291.1 M332 246C332.7 245.6 334.5 244 336 243.5C337.5 243 340.2 243.1 341 243 M336.7 263.3L343.3 263.2 M275.6 285C275.7 285.9 276.7 288.9 276.1 290.6C275.5 292.3 272.9 294.3 272.2 295 M305.6 285C306 286.1 306.7 289.7 307.8 291.7C308.9 293.7 310.4 295.5 312.2 297.2C314 298.9 317.8 300.9 318.9 301.7 M267.8 298.3C268.2 299.4 270 302.6 270 305C270 307.4 268 310.6 267.8 312.8C267.6 315 268.7 317.4 268.9 318.3 M272.2 299.4C273.3 299.6 276.9 299.7 278.9 300.6C280.9 301.5 282.9 303.5 284.4 305C285.9 306.5 288 308.1 287.8 309.4C287.6 310.7 284.2 311.3 283.3 312.8C282.4 314.3 282 316.8 282.2 318.3C282.4 319.8 284 321.1 284.4 321.7 M298.9 302.8C299.6 303.9 301.6 307 303.3 309.4C305 311.8 307.4 315.3 308.9 317.2C310.4 319.1 312.4 319.5 312.2 320.6C312 321.7 308.5 323.3 307.8 323.9 M307.8 308.3C308.9 308.5 312.2 308.5 314.4 309.4C316.6 310.3 319.1 312 321.1 313.9C323.2 315.8 325.2 318.4 326.7 320.6C328.2 322.8 329.1 325 330 327.2C330.9 329.4 331.8 332.8 332.2 333.9 M316.7 326.1C317.8 326.5 321.4 327.6 323.3 328.3C325.2 329.1 327.1 330.2 327.8 330.6 M286 300C286.7 300.7 289.7 302.7 290 304C290.3 305.3 288.3 307.3 288 308 M370.5 262C370.9 263 371.8 266.5 373 268C374.2 269.5 378.2 270.7 378 271C377.8 271.3 373 270.2 372 270 M388.9 266.1C389.6 265.4 391.6 263.4 393 262C394.4 260.6 396.8 258.2 397.5 257.5 M445 242.5C445.7 242.4 447.8 241.8 449 241.7C450.2 241.6 451.5 241.9 452 242 M437.8 210.6C438.5 210.7 440.7 210.3 442.2 211.1C443.7 211.9 445.2 214.1 446.7 215.6C448.2 217.1 449.8 219.4 451.1 220C452.4 220.6 453.6 220.1 454.4 219.4C455.2 218.7 455.8 216.2 456.1 215.6 M475.6 236.7C476.7 236.1 479.8 234.1 482.2 233.3C484.6 232.6 487.4 232 490 232.2C492.6 232.4 495.5 233.1 498 234.4C500.5 235.7 503.8 239.1 505 240 M470 244.4C471.1 243.7 474.1 240.9 476.7 240C479.3 239.1 482.7 238.5 485.6 238.9C488.6 239.3 491.7 240.8 494.4 242.2C497.1 243.5 499.7 245.2 502 247C504.3 248.8 507 252 508 253 M468.9 252.2L472.8 251.7 M448.3 261.1C448.8 261.7 450.1 264.1 451.1 264.4C452.1 264.7 453.8 263.1 454.4 262.8 M464.4 273.9L468.5 272.8 M474.4 278.3C474.2 279.8 474 284.6 473.3 287C472.6 289.4 470.6 292 470 293 M490 252C491.2 253 494.8 256.2 497 258C499.2 259.8 502 262.2 503 263 M510 256C510.7 257 512.8 259.7 514 262C515.2 264.3 516.2 267.5 517 270C517.8 272.5 518.7 275.8 519 277 M433.9 344.4C433.8 345.5 432.8 349.4 433.3 351.1C433.8 352.8 434.6 353.8 436.7 354.4C438.8 354.9 444.1 354.4 445.6 354.4 M457.8 351.1C458.7 350.7 461.3 348.7 463.3 348.9C465.3 349.1 467.8 352 470 352.2C472.2 352.4 473.7 349.8 476.7 350C479.7 350.2 485.6 354.2 487.8 353.3C490 352.4 489.6 345.9 490 344.4 M410 337.8C410.7 338.9 413 343 414.4 344.4C415.8 345.8 417.6 345.8 418.3 346.1 M414.4 344.4L414 349 M339.8 364.4C340.9 364.7 344.7 365.3 346.4 366.1C348.1 366.9 349.2 368.8 349.8 369.4 M476.7 371.7C477.6 372.4 480.3 374.8 482.2 376.1C484.1 377.4 486.9 378.8 487.8 379.4 M400 371C401.7 371.5 406.7 373.3 410 374C413.3 374.7 416.3 375 420 375C423.7 375 430 374.2 432 374 M420 300C419.3 301 417.3 304 416 306C414.7 308 413.3 309.7 412 312C410.7 314.3 408.7 318.7 408 320 M519.5 272C519 273.1 517.6 276.3 516.7 278.9C515.9 281.5 515.2 285 514.4 287.8C513.6 290.6 513.1 292.5 511.8 295.6C510.5 298.8 508.5 303.2 506.8 306.7C505.1 310.2 503.3 313.2 501.6 316.7C499.9 320.2 497.8 324.8 496.7 327.8C495.6 330.9 495.3 333.8 495 335 M520 277.8C520.4 278.9 521.3 282 522.2 284.4C523.1 286.8 524.1 289.6 525.6 292.2C527.1 294.8 530.2 298.7 531.1 300 M523.3 296.7C523.2 297.8 522.6 301.3 522.8 303.3C523 305.3 523.6 306.7 524.4 308.9C525.2 311.1 526.8 314.3 527.8 316.7C528.8 319.1 530.1 322.2 530.6 323.3 M521.1 324.4C520.7 325.1 519.3 327.2 518.9 328.9C518.5 330.6 518.7 332.9 518.9 334.4C519.1 335.9 520.2 336.6 520 338C519.8 339.4 518.1 340.9 517.8 342.8C517.5 344.7 517.8 347.4 518.3 349.4C518.8 351.4 519.9 353.9 521.1 355C522.3 356.1 524.1 356.5 525.6 356.1C527.1 355.7 528.7 354.3 530 352.8C531.3 351.3 532.8 348.1 533.3 347.2 M520.5 339L524 339.8 M518.9 355C519.5 355.6 521.2 357.7 522.2 358.9C523.2 360.1 524.5 361.6 525 362.2 M494.4 391.7C495.9 390.8 500.3 387.8 503.3 386.1C506.3 384.4 509.4 383.2 512.2 381.7C515 380.2 517.9 378.5 520 377.2C522.1 375.9 524.2 374.4 525 373.9 M497.8 395C499.1 394.6 503.4 393.5 505.6 392.8C507.8 392.1 509.6 390.8 511.1 390.6C512.6 390.4 513.9 391.5 514.4 391.7 M506.7 397.2C507.2 396.6 509 394.8 510 393.9C511 393 512.3 392.1 512.8 391.7 M334.4 341.7C332.9 340.1 328.9 339.4 325.6 338.5C322.3 337.6 318.1 337 314.4 336.1C310.7 335.2 307 334.4 303.3 333.3C299.6 332.2 295.9 330.8 292.2 329.4C288.5 328 284.4 326.5 281.1 325C277.8 323.5 274.6 322.3 272.2 320.6C269.8 318.9 268.5 316.9 266.7 315C264.9 313.1 262.5 311.4 261.1 309.4C259.7 307.4 259 305.4 258.3 302.8C257.6 300.2 257.4 296.9 257 293.9C256.6 290.9 256.1 287.6 256 285C255.9 282.4 256 280.8 256.5 278C257 275.2 257.8 271.3 259.2 268.3C260.6 265.3 262.9 262.6 265 260C267.1 257.4 269.2 255.1 271.7 252.5C274.2 249.9 276.9 247 280 244.2C283.1 241.4 286.9 238.1 290 235.8C293.1 233.5 295.5 231.6 298.3 230.3C301.1 229 303.6 229.1 306.7 227.8C309.8 226.5 313.1 224.2 316.7 222.5C320.3 220.8 325 218.8 328.3 217.3C331.6 215.8 333.9 214.4 336.7 213.7C339.5 213 341.7 213.6 345 213C348.3 212.4 352.5 210.8 356.7 210C360.9 209.2 365.8 208.6 370 208C374.2 207.4 378.3 207.1 382 206.5C385.7 205.9 388.4 205.2 392 204.5C395.6 203.8 400.7 202.7 403.7 202.3C406.7 201.9 407.8 202 410 202.2C412.2 202.4 414.5 202.7 416.7 203.4C418.9 204.2 421.5 205.6 423.3 206.7C425.1 207.8 425.8 210.1 427.6 210.1C429.5 210.1 432 207.1 434.4 206.4C436.8 205.7 439.8 205.4 442.2 205.8C444.6 206.2 446.7 207.5 448.9 208.9C451.1 210.3 453.9 213.1 455.6 214.2C457.3 215.3 457.2 215.5 458.9 215.6C460.6 215.7 463 214.7 465.6 215C468.2 215.3 471.8 215.9 474.4 217.2C477 218.5 478.7 221 481.1 222.6C483.5 224.2 486.5 225.2 488.9 226.7C491.3 228.2 493.2 229.7 495.3 231.5C497.4 233.3 499.3 235.4 501.3 237.7C503.3 240 505.9 243.3 507.5 245.5C509.1 247.7 509.3 249.1 510.8 250.8C512.3 252.5 514.5 253.9 516.3 255.8C518 257.8 519.8 260.1 521.3 262.5C522.8 264.9 524.4 267.6 525.5 270C526.6 272.4 527 274.2 528 276.7C529 279.2 530.3 281.7 531.3 285C532.3 288.3 533.2 292.8 533.8 296.7C534.4 300.6 534.7 304.4 534.7 308.3C534.7 312.2 534 316.4 534 320C534 323.6 534.5 326.4 534.7 330C534.9 333.6 534.9 338.1 535 341.7C535.1 345.3 535.5 348.5 535.3 351.7C535.1 354.9 534.8 357.8 533.9 360.6C533 363.4 531.3 366.1 530 368.3C528.7 370.5 526.7 372.2 525.9 373.9C525.1 375.6 525.8 376.4 525 378.3C524.2 380.2 522.7 382.8 521.1 385C519.5 387.2 517.3 389.5 515.6 391.7C513.9 393.9 512.8 396.6 511.1 398.3C509.4 400 507.5 401.2 505.6 401.7C503.8 402.2 502.2 401.8 500 401.3C497.8 400.8 494.4 399.6 492.2 398.5C490 397.4 488.8 395.6 487 394.5C485.2 393.4 483.8 392.4 481.3 391.7C478.8 390.9 475.2 391 472 390C468.8 389 465.9 387 462 385.5C458.1 384 452.9 382.2 448.7 381C444.5 379.8 441.2 379.1 437 378.5C432.8 377.9 427.9 377.8 423.7 377.5C419.5 377.2 415.6 376.6 412 377C408.4 377.4 405 378.8 402 379.6C399 380.4 397.2 381.2 394.2 381.9C391.2 382.5 387.5 383.1 384.2 383.5C380.9 383.9 376.8 384.2 374.2 384.1C371.6 384 370.5 383.6 368.7 382.9C366.9 382.1 365.3 380.7 363.1 379.6C360.9 378.5 357.9 377.4 355.3 376.3C352.7 375.2 350 374.3 347.6 373C345.2 371.7 342.4 369.8 340.9 368.5C339.4 367.2 338.9 366.1 338.7 365C338.5 363.9 340 363.2 339.6 361.7C339.2 360.2 337.2 358.3 336.4 356.1C335.6 353.9 335.1 350.7 334.8 348.3C334.5 345.9 335.9 343.3 334.4 341.7Z" fill="none" stroke-linecap="round" stroke-linejoin="round"/>
</defs>
<clipPath id="stc"><path d="M388.5 379C386.8 380.1 389.1 381.2 389.5 382.5C389.9 383.8 390.2 385 390.8 386.5C391.4 388 392.1 390 393 391.5C393.9 393 394.9 394.1 396 395.3C397.1 396.5 398.4 397.3 399.5 398.7C400.6 400.1 401.8 401.3 402.8 403.5C403.9 405.7 405.1 409.2 405.8 411.8C406.5 414.4 406.7 416.8 406.8 419.3C406.9 421.8 406.4 423.8 406.2 427C406 430.2 405.5 434.8 405.4 438.3C405.2 441.9 405 446.3 405.3 448.3C405.6 450.3 405.2 449.6 407 450.3C408.8 451.1 414.4 452.9 416.3 452.8C418.2 452.8 417.6 452.4 418.2 450C418.8 447.6 419.4 442.1 420 438.3C420.6 434.5 421 430.2 421.8 427C422.6 423.8 424.3 421.4 425 419C425.7 416.6 426 414.9 425.9 412.7C425.8 410.5 425.4 408.4 424.3 406C423.2 403.6 421 400.7 419.3 398.5C417.6 396.3 415.7 394.6 414.3 392.7C412.9 390.8 411.8 389.2 411 386.8C410.2 384.4 411.3 379.8 409.5 378C407.7 376.2 403.5 375.8 400 376C396.5 376.2 390.2 377.9 388.5 379Z"/></clipPath>
<path d="M388.5 379C386.8 380.1 389.1 381.2 389.5 382.5C389.9 383.8 390.2 385 390.8 386.5C391.4 388 392.1 390 393 391.5C393.9 393 394.9 394.1 396 395.3C397.1 396.5 398.4 397.3 399.5 398.7C400.6 400.1 401.8 401.3 402.8 403.5C403.9 405.7 405.1 409.2 405.8 411.8C406.5 414.4 406.7 416.8 406.8 419.3C406.9 421.8 406.4 423.8 406.2 427C406 430.2 405.5 434.8 405.4 438.3C405.2 441.9 405 446.3 405.3 448.3C405.6 450.3 405.2 449.6 407 450.3C408.8 451.1 414.4 452.9 416.3 452.8C418.2 452.8 417.6 452.4 418.2 450C418.8 447.6 419.4 442.1 420 438.3C420.6 434.5 421 430.2 421.8 427C422.6 423.8 424.3 421.4 425 419C425.7 416.6 426 414.9 425.9 412.7C425.8 410.5 425.4 408.4 424.3 406C423.2 403.6 421 400.7 419.3 398.5C417.6 396.3 415.7 394.6 414.3 392.7C412.9 390.8 411.8 389.2 411 386.8C410.2 384.4 411.3 379.8 409.5 378C407.7 376.2 403.5 375.8 400 376C396.5 376.2 390.2 377.9 388.5 379Z" fill="#bdad64"/>
<g clip-path="url(#stc)">
<path d="M388.5 379C386.8 380.1 389.1 381.2 389.5 382.5C389.9 383.8 390.2 385 390.8 386.5C391.4 388 392.1 390 393 391.5C393.9 393 394.9 394.1 396 395.3C397.1 396.5 398.4 397.3 399.5 398.7C400.6 400.1 401.8 401.3 402.8 403.5C403.9 405.7 405.1 409.2 405.8 411.8C406.5 414.4 406.7 416.8 406.8 419.3C406.9 421.8 406.4 423.8 406.2 427C406 430.2 405.5 434.8 405.4 438.3C405.2 441.9 405 446.3 405.3 448.3C405.6 450.3 405.2 449.6 407 450.3C408.8 451.1 414.4 452.9 416.3 452.8C418.2 452.8 417.6 452.4 418.2 450C418.8 447.6 419.4 442.1 420 438.3C420.6 434.5 421 430.2 421.8 427C422.6 423.8 424.3 421.4 425 419C425.7 416.6 426 414.9 425.9 412.7C425.8 410.5 425.4 408.4 424.3 406C423.2 403.6 421 400.7 419.3 398.5C417.6 396.3 415.7 394.6 414.3 392.7C412.9 390.8 411.8 389.2 411 386.8C410.2 384.4 411.3 379.8 409.5 378C407.7 376.2 403.5 375.8 400 376C396.5 376.2 390.2 377.9 388.5 379Z" fill="none" stroke="#8a7a3a" stroke-width="5" filter="url(#b2)" opacity="0.8"/>
<path d="M411 400Q416 420 412 446" fill="none" stroke="#d8cf98" stroke-width="3" opacity="0.5" filter="url(#b1)"/>
</g>
<g fill="none" stroke="#1e1808" stroke-width="0.7" stroke-linecap="round"><path d="M413.5 412.5L413.2 420.5M415.8 413L415.6 420.5M413.3 420.6L415.7 420.6M414.3 432Q414.8 437 414.2 442M417.3 426Q418.6 431 418 438"/><path d="M410 408.5L418 409.5M411.5 406L412.5 411M415.5 406.5L416 411.5M418.5 407L418 411.5"/></g>
<path d="M388.5 379C386.8 380.1 389.1 381.2 389.5 382.5C389.9 383.8 390.2 385 390.8 386.5C391.4 388 392.1 390 393 391.5C393.9 393 394.9 394.1 396 395.3C397.1 396.5 398.4 397.3 399.5 398.7C400.6 400.1 401.8 401.3 402.8 403.5C403.9 405.7 405.1 409.2 405.8 411.8C406.5 414.4 406.7 416.8 406.8 419.3C406.9 421.8 406.4 423.8 406.2 427C406 430.2 405.5 434.8 405.4 438.3C405.2 441.9 405 446.3 405.3 448.3C405.6 450.3 405.2 449.6 407 450.3C408.8 451.1 414.4 452.9 416.3 452.8C418.2 452.8 417.6 452.4 418.2 450C418.8 447.6 419.4 442.1 420 438.3C420.6 434.5 421 430.2 421.8 427C422.6 423.8 424.3 421.4 425 419C425.7 416.6 426 414.9 425.9 412.7C425.8 410.5 425.4 408.4 424.3 406C423.2 403.6 421 400.7 419.3 398.5C417.6 396.3 415.7 394.6 414.3 392.7C412.9 390.8 411.8 389.2 411 386.8C410.2 384.4 411.3 379.8 409.5 378C407.7 376.2 403.5 375.8 400 376C396.5 376.2 390.2 377.9 388.5 379Z" fill="none" stroke="#15100a" stroke-width="1.4" stroke-linejoin="round"/>
<clipPath id="cbc"><path d="M409.4 380.9C410.4 379.7 413.1 377.8 416.1 377C419.1 376.2 423.1 376 427.2 376C431.3 376 436.5 376.3 440.6 377C444.7 377.7 448 378.8 451.7 380C455.4 381.2 459.1 382.7 462.8 384C466.5 385.3 470.4 386.6 473.9 388C477.4 389.4 481.6 390.2 484 392.5C486.4 394.8 487.5 399.1 488.6 402C489.7 404.9 490.4 407.2 490.6 409.8C490.8 412.4 490.6 415.2 490 417.6C489.4 420 488.6 422.2 487.2 424.2C485.8 426.2 483.9 428.3 481.7 429.8C479.5 431.3 476.7 432.5 473.9 433.1C471.1 433.8 468.1 434.1 465 433.7C461.9 433.3 458.1 432.1 455 430.9C451.9 429.7 449 428.3 446.1 426.4C443.2 424.5 440.2 422.1 437.6 419.6C435 417.1 432.9 414.4 430.6 411.6C428.3 408.8 426 405.2 424 402.6C422 400 420.4 398 418.5 395.8C416.6 393.6 414.2 391.3 412.8 389.4C411.4 387.5 410.4 385.6 409.8 384.2C409.2 382.8 408.3 382.1 409.4 380.9Z"/></clipPath>
<path d="M409.4 380.9C410.4 379.7 413.1 377.8 416.1 377C419.1 376.2 423.1 376 427.2 376C431.3 376 436.5 376.3 440.6 377C444.7 377.7 448 378.8 451.7 380C455.4 381.2 459.1 382.7 462.8 384C466.5 385.3 470.4 386.6 473.9 388C477.4 389.4 481.6 390.2 484 392.5C486.4 394.8 487.5 399.1 488.6 402C489.7 404.9 490.4 407.2 490.6 409.8C490.8 412.4 490.6 415.2 490 417.6C489.4 420 488.6 422.2 487.2 424.2C485.8 426.2 483.9 428.3 481.7 429.8C479.5 431.3 476.7 432.5 473.9 433.1C471.1 433.8 468.1 434.1 465 433.7C461.9 433.3 458.1 432.1 455 430.9C451.9 429.7 449 428.3 446.1 426.4C443.2 424.5 440.2 422.1 437.6 419.6C435 417.1 432.9 414.4 430.6 411.6C428.3 408.8 426 405.2 424 402.6C422 400 420.4 398 418.5 395.8C416.6 393.6 414.2 391.3 412.8 389.4C411.4 387.5 410.4 385.6 409.8 384.2C409.2 382.8 408.3 382.1 409.4 380.9Z" fill="#e0b0c3"/>
<g clip-path="url(#cbc)">
<path d="M438.4 395.6C449.5 399.6 469.3 410.2 472 414.9 M428.2 389.7C447.3 392.5 478.6 407.6 480 419.5 M420.9 385.5C446.5 386.2 486.2 404.2 485.9 422.9 M416.5 383C446.8 380.5 491.7 399.4 488.8 424.6 M413.6 381.3C447.7 375.2 496 394.1 490.2 425.4 M410.7 379.6C448.5 369.6 499.9 388.1 491 425.8 M436.2 394.3C439.1 400.1 461.6 412.9 474.9 416.6 M426.7 388.9C428.7 400.9 461 419.1 482.2 420.8 M420.1 385.1C420.4 403 459.3 424.7 486.6 423.3 M415.8 382.6C414 406.2 457.1 430.1 489.5 425 M412.1 380.5C407.9 409.5 453.7 434.7 490.2 425.4 M409.2 378.8C402.4 413.2 450.5 439.4 491 425.8 M406.3 377.1C397 417 447.3 444.2 491.7 426.3" fill="none" stroke="#b98098" stroke-width="2.4" filter="url(#b05)" opacity="0.75"/>
<path d="M409.4 380.9C410.4 379.7 413.1 377.8 416.1 377C419.1 376.2 423.1 376 427.2 376C431.3 376 436.5 376.3 440.6 377C444.7 377.7 448 378.8 451.7 380C455.4 381.2 459.1 382.7 462.8 384C466.5 385.3 470.4 386.6 473.9 388C477.4 389.4 481.6 390.2 484 392.5C486.4 394.8 487.5 399.1 488.6 402C489.7 404.9 490.4 407.2 490.6 409.8C490.8 412.4 490.6 415.2 490 417.6C489.4 420 488.6 422.2 487.2 424.2C485.8 426.2 483.9 428.3 481.7 429.8C479.5 431.3 476.7 432.5 473.9 433.1C471.1 433.8 468.1 434.1 465 433.7C461.9 433.3 458.1 432.1 455 430.9C451.9 429.7 449 428.3 446.1 426.4C443.2 424.5 440.2 422.1 437.6 419.6C435 417.1 432.9 414.4 430.6 411.6C428.3 408.8 426 405.2 424 402.6C422 400 420.4 398 418.5 395.8C416.6 393.6 414.2 391.3 412.8 389.4C411.4 387.5 410.4 385.6 409.8 384.2C409.2 382.8 408.3 382.1 409.4 380.9Z" fill="none" stroke="#9a5f7c" stroke-width="4" filter="url(#b2)" opacity="0.5"/>
<path d="M438.4 395.6C449.5 399.6 469.3 410.2 472 414.9 M428.2 389.7C447.3 392.5 478.6 407.6 480 419.5 M420.9 385.5C446.5 386.2 486.2 404.2 485.9 422.9 M416.5 383C446.8 380.5 491.7 399.4 488.8 424.6 M413.6 381.3C447.7 375.2 496 394.1 490.2 425.4 M410.7 379.6C448.5 369.6 499.9 388.1 491 425.8 M436.2 394.3C439.1 400.1 461.6 412.9 474.9 416.6 M426.7 388.9C428.7 400.9 461 419.1 482.2 420.8 M420.1 385.1C420.4 403 459.3 424.7 486.6 423.3 M415.8 382.6C414 406.2 457.1 430.1 489.5 425 M412.1 380.5C407.9 409.5 453.7 434.7 490.2 425.4 M409.2 378.8C402.4 413.2 450.5 439.4 491 425.8 M406.3 377.1C397 417 447.3 444.2 491.7 426.3" fill="none" stroke="#12060d" stroke-width="1.25" stroke-linecap="round"/>
</g>
<path d="M409.4 380.9C410.4 379.7 413.1 377.8 416.1 377C419.1 376.2 423.1 376 427.2 376C431.3 376 436.5 376.3 440.6 377C444.7 377.7 448 378.8 451.7 380C455.4 381.2 459.1 382.7 462.8 384C466.5 385.3 470.4 386.6 473.9 388C477.4 389.4 481.6 390.2 484 392.5C486.4 394.8 487.5 399.1 488.6 402C489.7 404.9 490.4 407.2 490.6 409.8C490.8 412.4 490.6 415.2 490 417.6C489.4 420 488.6 422.2 487.2 424.2C485.8 426.2 483.9 428.3 481.7 429.8C479.5 431.3 476.7 432.5 473.9 433.1C471.1 433.8 468.1 434.1 465 433.7C461.9 433.3 458.1 432.1 455 430.9C451.9 429.7 449 428.3 446.1 426.4C443.2 424.5 440.2 422.1 437.6 419.6C435 417.1 432.9 414.4 430.6 411.6C428.3 408.8 426 405.2 424 402.6C422 400 420.4 398 418.5 395.8C416.6 393.6 414.2 391.3 412.8 389.4C411.4 387.5 410.4 385.6 409.8 384.2C409.2 382.8 408.3 382.1 409.4 380.9Z" fill="none" stroke="#0d060a" stroke-width="1.9"/>
<path d="M324 348.6C324 345.6 327 344.2 330 344.4C333 344.6 335.5 346.6 336.3 349C337 351.5 337.5 354.5 338.5 357L336 356.5C334 353.5 331.5 353.3 329 353.2C326 353 324 351.5 324 348.6Z" fill="#c7bd7d" stroke="#15100a" stroke-width="1.2" stroke-linejoin="round"/>
<ellipse cx="329" cy="348" rx="3" ry="2" fill="#e3dcae" opacity="0.7" filter="url(#b1)"/>
<g fill="#bdb270" stroke="#15100a" stroke-width="1.1" stroke-linejoin="round"><path d="M372.5 385.5C374 383.8 378 383.6 381 384.4C382 386 381 388.6 378.5 389.6C376 390.5 372.5 390.8 372 389C371.6 387.6 371.8 386.4 372.5 385.5Z"/><ellipse cx="387" cy="387" rx="4.2" ry="3.4"/><path d="M390.5 383.5L396 383L398.5 386.5L394 390Z"/></g>
<g fill="#d6cd9a" stroke="#15100a" stroke-width="0.8" stroke-linejoin="round" stroke-linecap="round"><path d="M389.5 393.5L396 396.5L395.5 398L389 395.2Z"/><path d="M391 396.8L397 399.5L396.4 401L390.6 398.3Z"/><path d="M400.5 395L405.5 394.5L410.5 397.5L413 400.5L410 401L405 398.5L401 398Z"/><path d="M408 397.5L415 399.5L417.5 402.5L413 402Z"/></g>
<g clip-path="url(#silc)">
<defs><g id="hl" fill="none" stroke-linecap="round" stroke-linejoin="round" filter="url(#b3)"><path d="M263 278C263.3 279 264.2 282.2 265 284C265.8 285.8 267.5 288.2 268 289" stroke="#ffeaf0" stroke-width="9.0" opacity="0.8"/><path d="M282 266C282.7 268.2 283.8 274.8 286 279C288.2 283.2 293.5 289 295 291" stroke="#ffe3ea" stroke-width="12.0" opacity="0.6"/><path d="M289 284L298 292" stroke="#fff" stroke-width="9.8" opacity="0.78"/><path d="M309 262C309.3 264.3 309.7 271.7 311 276C312.3 280.3 316 286 317 288" stroke="#ffe3ea" stroke-width="12.0" opacity="0.6"/><path d="M314 283L322 292" stroke="#fff" stroke-width="9.8" opacity="0.78"/><path d="M332 258C332.8 260.5 335.2 268.2 337 273C338.8 277.8 342 284.7 343 287" stroke="#ffe3ea" stroke-width="12.0" opacity="0.65"/><path d="M338 272L344 287" stroke="#fff" stroke-width="12.0" opacity="0.85"/><path d="M305 243L318 238" stroke="#fff" stroke-width="4.5" opacity="0.5"/><path d="M383 222L390 218" stroke="#fff" stroke-width="6.0" opacity="0.5"/><path d="M357 237L366 232" stroke="#fff" stroke-width="6.0" opacity="0.5"/><path d="M262.5 299L263.5 308" stroke="#fbc0cf" stroke-width="5.2" opacity="0.55"/><path d="M275.5 306L276 314" stroke="#fbc0cf" stroke-width="5.2" opacity="0.5"/><path d="M292 311L297 319" stroke="#fbc0cf" stroke-width="6.0" opacity="0.5"/><path d="M314 315L320 322" stroke="#fbc0cf" stroke-width="6.0" opacity="0.5"/><path d="M360 261.7C360.8 263.6 362.8 269.4 365 273.3C367.2 277.2 371.9 283.1 373.3 285" stroke="#fff" stroke-width="7.5" opacity="0.8"/><path d="M381.7 258C383.1 260.6 385.8 269.9 390 273.3C394.2 276.7 401.7 278.3 406.7 278.3C411.7 278.3 417.8 274.1 420 273.3" stroke="#fff" stroke-width="12.0" opacity="0.85"/><path d="M406.7 250L415 260" stroke="#fff" stroke-width="9.0" opacity="0.7"/><path d="M433.3 256.7L435 273.3" stroke="#fff" stroke-width="9.0" opacity="0.8"/><path d="M415 223C418.3 222.7 429.5 222 435 221C440.5 220 445.8 217.7 448 217" stroke="#fff" stroke-width="6.0" opacity="0.6"/><path d="M412 238C414.2 237.7 420.3 236.7 425 236C429.7 235.3 437.5 234.3 440 234" stroke="#fff" stroke-width="9.0" opacity="0.7"/><path d="M460 226L468 222" stroke="#fff" stroke-width="7.5" opacity="0.6"/><path d="M458 262L460 272" stroke="#fff" stroke-width="7.5" opacity="0.7"/><path d="M480 247L495 250" stroke="#fff" stroke-width="7.5" opacity="0.6"/><path d="M482 273L490 274" stroke="#fff" stroke-width="7.5" opacity="0.7"/><path d="M438 283C437 285.5 434.8 292.5 432 298C429.2 303.5 422.8 313 421 316" stroke="#fff3da" stroke-width="12.0" opacity="0.9"/><path d="M462 283C461 285.3 458.5 292.5 456 297C453.5 301.5 448.5 307.8 447 310" stroke="#fff3da" stroke-width="12.0" opacity="0.9"/><path d="M486 283C485.2 285.8 484.2 294.2 481 300C477.8 305.8 469.3 315 467 318" stroke="#fff3da" stroke-width="12.0" opacity="0.9"/><path d="M506 291C504.5 294.8 499.8 307.2 497 314C494.2 320.8 490.3 329 489 332" stroke="#fff3da" stroke-width="7.5" opacity="0.7"/><path d="M408 291L405 310" stroke="#fff3da" stroke-width="7.5" opacity="0.7"/><path d="M452 323C453.7 324.3 457.7 328.8 462 331C466.3 333.2 475.3 335.2 478 336" stroke="#ffe9a4" stroke-width="13.5" opacity="0.85"/><path d="M372 308C373.7 309.7 378.7 315 382 318C385.3 321 390.3 324.7 392 326" stroke="#ffe9a4" stroke-width="10.5" opacity="0.8"/><path d="M356 324C357 325.3 360 329.7 362 332C364 334.3 367 337 368 338" stroke="#ffe9a4" stroke-width="10.5" opacity="0.8"/><path d="M376 358C378 357 383.7 354 388 352C392.3 350 399.7 347 402 346" stroke="#ffe9a4" stroke-width="13.5" opacity="0.8"/><path d="M440 365L460 368" stroke="#ffe9a4" stroke-width="9.0" opacity="0.4"/><path d="M464 355L484 353" stroke="#ffe9a4" stroke-width="7.5" opacity="0.45"/><path d="M420 326L418 338" stroke="#ffe9a4" stroke-width="7.5" opacity="0.5"/><path d="M372 300C374.2 299.3 380.3 297.2 385 296C389.7 294.8 397.5 293.5 400 293" stroke="#ffe9a4" stroke-width="7.5" opacity="0.5"/><path d="M506 312C505.5 315 503 323.7 503 330C503 336.3 505.5 346.7 506 350" stroke="#f6fce6" stroke-width="12.0" opacity="0.85"/><path d="M508 368L503 380" stroke="#fff" stroke-width="6.0" opacity="0.5"/><path d="M506 342C506.7 344.7 509.8 353 510 358C510.2 363 508.7 367 507 372C505.3 377 501.2 385.3 500 388" stroke="#e8f4b4" stroke-width="16.5" opacity="0.65"/><path d="M516 382C515 383.7 512 389.3 510 392C508 394.7 505 397 504 398" stroke="#e8f4b4" stroke-width="6.0" opacity="0.5"/><path d="M498 388C499.7 387.3 505 385.7 508 384C511 382.3 514.7 379 516 378" stroke="#f2fbdc" stroke-width="6.0" opacity="0.4"/></g></defs>
<defs><g id="tn" filter="url(#b3)"><path d="M259 296C260.9 294.3 269.5 294.2 275 295C280.5 295.8 294 300.5 300 302C306 303.5 315.3 306.7 320 306C324.7 305.3 332.9 292.7 335 297C337.1 301.3 338.7 332.9 336 338C333.3 343.1 321.1 336.3 315 335C308.9 333.7 295.7 330 290 328C284.3 326 275.9 322.7 272 320C268.1 317.3 262.7 311.2 261 308C259.3 304.8 257.1 297.7 259 296Z" fill="#e63c7e" opacity="0.55"/><path d="M262 262C261.6 260.4 268.3 253.2 272 250C275.7 246.8 284.9 240.7 290 238C295.1 235.3 304 232.7 310 230C316 227.3 328.3 220.4 335 218C341.7 215.6 352.7 213.3 360 212C367.3 210.7 384.7 208.3 390 208C395.3 207.7 401.3 208.7 400 210C398.7 211.3 386.7 215.9 380 218C373.3 220.1 358 223.3 350 226C342 228.7 327.3 234.8 320 238C312.7 241.2 301 246.8 295 250C289 253.2 279.4 260.4 275 262C270.6 263.6 262.4 263.6 262 262Z" fill="#e8477f" opacity="0.35"/><path d="M345 232C346.3 230.4 356 229.5 360 230C364 230.5 374.3 233.9 375 236C375.7 238.1 368.3 245.2 365 246C361.7 246.8 352.7 243.9 350 242C347.3 240.1 343.7 233.6 345 232Z" fill="#e8307a" opacity="0.4"/><path d="M345 368C347.7 368.3 362.7 376.8 370 378C377.3 379.2 390.7 377.3 400 377C409.3 376.7 429.3 375.3 440 376C450.7 376.7 473.9 380.1 480 382C486.1 383.9 491.3 390.1 486 390C480.7 389.9 451.5 382.1 440 381C428.5 379.9 409.3 381.6 400 382C390.7 382.4 376.7 384.8 370 384C363.3 383.2 353.3 378.1 350 376C346.7 373.9 342.3 367.7 345 368Z" fill="#f3921e" opacity="0.5"/><path d="M512 285C513.1 283.3 525.1 278.7 528 282C530.9 285.3 533.3 300.9 534 310C534.7 319.1 533.8 342.7 533 350C532.2 357.3 529.2 366.3 528 365C526.8 363.7 524.3 347.3 524 340C523.7 332.7 526.5 316 526 310C525.5 304 521.9 298.3 520 295C518.1 291.7 510.9 286.7 512 285Z" fill="#93ad4a" opacity="0.45"/><path d="M334 330C334.7 326.7 338.3 321.1 340 320C341.7 318.9 346.2 320 347 322C347.8 324 345.6 331.3 346 335C346.4 338.7 350.1 346.4 350 350C349.9 353.6 346.6 360.9 345 362C343.4 363.1 339.3 360.3 338 358C336.7 355.7 335.5 348.7 335 345C334.5 341.3 333.3 333.3 334 330Z" fill="#fba53a" opacity="0.5"/></g></defs>
<g><rect x="250" y="195" width="295" height="215" fill="#f384a6"/><use href="#hl"/><use href="#shl" stroke="#e0336f" stroke-width="3.6" filter="url(#b2)" opacity="0.85"/><use href="#shd" stroke="#e0336f" stroke-width="5.5" filter="url(#b2)" opacity="1"/><use href="#shd" stroke="#1a0a10" stroke-width="5.5" filter="url(#b2)" opacity="0.42"/></g>
<g clip-path="url(#pc)"><rect x="250" y="195" width="295" height="215" fill="#bab5e2"/><use href="#hl"/><use href="#shl" stroke="#7475d0" stroke-width="3.6" filter="url(#b2)" opacity="0.85"/><use href="#shd" stroke="#7475d0" stroke-width="6" filter="url(#b2)" opacity="1"/><use href="#shd" stroke="#1a0a10" stroke-width="5.5" filter="url(#b2)" opacity="0.42"/></g>
<g clip-path="url(#oc)"><rect x="250" y="195" width="295" height="215" fill="#fbb75c"/><use href="#hl"/><use href="#shl" stroke="#f08c14" stroke-width="3.6" filter="url(#b2)" opacity="0.85"/><use href="#shd" stroke="#f08c14" stroke-width="6.5" filter="url(#b2)" opacity="1"/><use href="#shd" stroke="#1a0a10" stroke-width="5.5" filter="url(#b2)" opacity="0.42"/></g>
<g clip-path="url(#gc)"><rect x="250" y="195" width="295" height="215" fill="#96cb4e"/><use href="#hl"/><use href="#shl" stroke="#6fa42a" stroke-width="3.6" filter="url(#b2)" opacity="0.85"/><use href="#shd" stroke="#6fa42a" stroke-width="5.5" filter="url(#b2)" opacity="1"/><use href="#shd" stroke="#1a0a10" stroke-width="5.5" filter="url(#b2)" opacity="0.42"/></g>
<use href="#tn"/>
<g fill="none" stroke-linecap="round" filter="url(#b2)"><path d="M299.4 256C299.4 256.8 299.6 259.1 299.5 261C299.4 262.9 299.2 264.5 298.9 267.2C298.6 269.9 297.2 274 297.8 277.2C298.4 280.4 300.5 283.1 302.2 286.1C303.9 289.1 306.9 293.5 307.8 295" transform="translate(-2.6 0.3)" stroke="#8a1d45" stroke-width="4.5" opacity="0.55"/><path d="M323.3 256.1C322.6 258 319.6 263.5 319.4 267.2C319.2 270.9 320.4 274.6 322.2 278.3C324 282 328.7 287.5 330 289.4" transform="translate(-2.4 0.3)" stroke="#8a1d45" stroke-width="4" opacity="0.45"/><path d="M276.7 261.1C275.9 262.1 273.1 264.7 272.2 267.2C271.3 269.7 270.8 273.1 271.1 276.1C271.4 279.1 273.4 283.5 273.9 285" transform="translate(-2.2 0)" stroke="#8a1d45" stroke-width="3.5" opacity="0.4"/><path d="M405.2 232.8C404.6 233.8 403 236.9 401.9 238.7C400.8 240.5 399.3 241.9 398.5 243.7C397.7 245.5 397.3 247.6 397.2 249.5C397.1 251.4 397.8 254.3 397.9 255.3" transform="translate(3 1.5)" stroke="#4a4670" stroke-width="5" opacity="0.5"/><path d="M432.2 248.3C431.4 250 428.3 254.8 427.2 258.3C426.1 261.8 425.9 265.5 425.6 269.4C425.3 273.3 425.6 279.6 425.6 281.7" transform="translate(-3 0)" stroke="#4a4670" stroke-width="4.5" opacity="0.4"/><path d="M356.7 344.4C358 344.9 361.4 347 364.4 347.2C367.3 347.4 371.4 346.6 374.4 345.6C377.4 344.6 379.2 342.6 382.2 341.1C385.2 339.6 389 337.8 392.2 336.7C395.4 335.6 399.6 334.8 401.1 334.4" transform="translate(0 -3)" stroke="#a5621a" stroke-width="4.5" opacity="0.4"/><path d="M440 318.9C440.6 320.4 441.8 325 443.3 327.8C444.8 330.6 446.7 333.2 448.9 335.6C451.1 338 453.9 340.4 456.7 342.2C459.5 344 462.3 345.7 465.6 346.7C468.9 347.7 474.9 348 476.7 348.3" transform="translate(1.5 -2.5)" stroke="#a5621a" stroke-width="4.5" opacity="0.4"/></g>
<use href="#sul" fill="#000" filter="url(#b1)" opacity="0.75"/>
<use href="#sul" fill="#0a0505"/>
</g>
<path d="M334.4 341.7C332.9 340.1 328.9 339.4 325.6 338.5C322.3 337.6 318.1 337 314.4 336.1C310.7 335.2 307 334.4 303.3 333.3C299.6 332.2 295.9 330.8 292.2 329.4C288.5 328 284.4 326.5 281.1 325C277.8 323.5 274.6 322.3 272.2 320.6C269.8 318.9 268.5 316.9 266.7 315C264.9 313.1 262.5 311.4 261.1 309.4C259.7 307.4 259 305.4 258.3 302.8C257.6 300.2 257.4 296.9 257 293.9C256.6 290.9 256.1 287.6 256 285C255.9 282.4 256 280.8 256.5 278C257 275.2 257.8 271.3 259.2 268.3C260.6 265.3 262.9 262.6 265 260C267.1 257.4 269.2 255.1 271.7 252.5C274.2 249.9 276.9 247 280 244.2C283.1 241.4 286.9 238.1 290 235.8C293.1 233.5 295.5 231.6 298.3 230.3C301.1 229 303.6 229.1 306.7 227.8C309.8 226.5 313.1 224.2 316.7 222.5C320.3 220.8 325 218.8 328.3 217.3C331.6 215.8 333.9 214.4 336.7 213.7C339.5 213 341.7 213.6 345 213C348.3 212.4 352.5 210.8 356.7 210C360.9 209.2 365.8 208.6 370 208C374.2 207.4 378.3 207.1 382 206.5C385.7 205.9 388.4 205.2 392 204.5C395.6 203.8 400.7 202.7 403.7 202.3C406.7 201.9 407.8 202 410 202.2C412.2 202.4 414.5 202.7 416.7 203.4C418.9 204.2 421.5 205.6 423.3 206.7C425.1 207.8 425.8 210.1 427.6 210.1C429.5 210.1 432 207.1 434.4 206.4C436.8 205.7 439.8 205.4 442.2 205.8C444.6 206.2 446.7 207.5 448.9 208.9C451.1 210.3 453.9 213.1 455.6 214.2C457.3 215.3 457.2 215.5 458.9 215.6C460.6 215.7 463 214.7 465.6 215C468.2 215.3 471.8 215.9 474.4 217.2C477 218.5 478.7 221 481.1 222.6C483.5 224.2 486.5 225.2 488.9 226.7C491.3 228.2 493.2 229.7 495.3 231.5C497.4 233.3 499.3 235.4 501.3 237.7C503.3 240 505.9 243.3 507.5 245.5C509.1 247.7 509.3 249.1 510.8 250.8C512.3 252.5 514.5 253.9 516.3 255.8C518 257.8 519.8 260.1 521.3 262.5C522.8 264.9 524.4 267.6 525.5 270C526.6 272.4 527 274.2 528 276.7C529 279.2 530.3 281.7 531.3 285C532.3 288.3 533.2 292.8 533.8 296.7C534.4 300.6 534.7 304.4 534.7 308.3C534.7 312.2 534 316.4 534 320C534 323.6 534.5 326.4 534.7 330C534.9 333.6 534.9 338.1 535 341.7C535.1 345.3 535.5 348.5 535.3 351.7C535.1 354.9 534.8 357.8 533.9 360.6C533 363.4 531.3 366.1 530 368.3C528.7 370.5 526.7 372.2 525.9 373.9C525.1 375.6 525.8 376.4 525 378.3C524.2 380.2 522.7 382.8 521.1 385C519.5 387.2 517.3 389.5 515.6 391.7C513.9 393.9 512.8 396.6 511.1 398.3C509.4 400 507.5 401.2 505.6 401.7C503.8 402.2 502.2 401.8 500 401.3C497.8 400.8 494.4 399.6 492.2 398.5C490 397.4 488.8 395.6 487 394.5C485.2 393.4 483.8 392.4 481.3 391.7C478.8 390.9 475.2 391 472 390C468.8 389 465.9 387 462 385.5C458.1 384 452.9 382.2 448.7 381C444.5 379.8 441.2 379.1 437 378.5C432.8 377.9 427.9 377.8 423.7 377.5C419.5 377.2 415.6 376.6 412 377C408.4 377.4 405 378.8 402 379.6C399 380.4 397.2 381.2 394.2 381.9C391.2 382.5 387.5 383.1 384.2 383.5C380.9 383.9 376.8 384.2 374.2 384.1C371.6 384 370.5 383.6 368.7 382.9C366.9 382.1 365.3 380.7 363.1 379.6C360.9 378.5 357.9 377.4 355.3 376.3C352.7 375.2 350 374.3 347.6 373C345.2 371.7 342.4 369.8 340.9 368.5C339.4 367.2 338.9 366.1 338.7 365C338.5 363.9 340 363.2 339.6 361.7C339.2 360.2 337.2 358.3 336.4 356.1C335.6 353.9 335.1 350.7 334.8 348.3C334.5 345.9 335.9 343.3 334.4 341.7Z" fill="none" stroke="#0a0505" stroke-width="2.0" stroke-linejoin="round"/>
<path d="M271 319.6L283.3 323.7L294.4 327L305.6 330.3L316.7 332.6L327.8 335.4L334.8 339.6L334.8 341L327.8 338L316.7 336.3L305.6 334.1L294.4 330.8L283.3 326.3L272 322.4Z" fill="#cdc383" stroke="#15100a" stroke-width="1.1" stroke-linejoin="round"/>
</g>
</svg>
</body></html>
